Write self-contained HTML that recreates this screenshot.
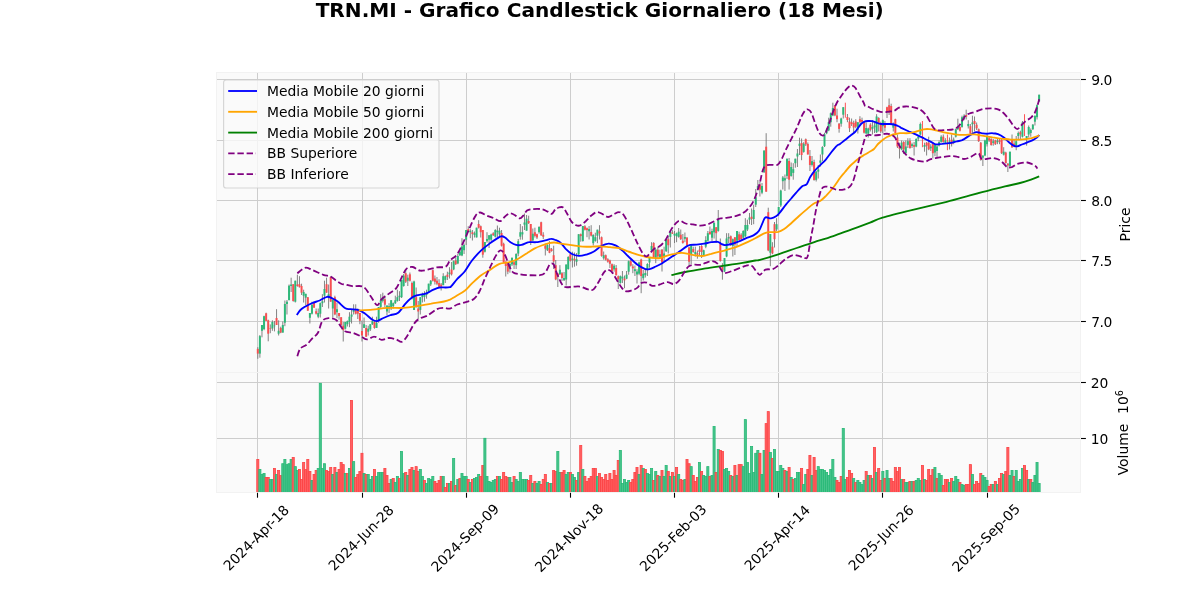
<!DOCTYPE html>
<html><head><meta charset="utf-8"><title>TRN.MI</title>
<style>html,body{margin:0;padding:0;background:#fff;width:1200px;height:600px;overflow:hidden}</style></head>
<body>
<svg width="1200" height="600" viewBox="0 0 1200 600" style="position:absolute;left:0;top:0;font-family:'DejaVu Sans','Liberation Sans',sans-serif">
<rect x="0" y="0" width="1200" height="600" fill="#ffffff"/>
<g opacity="0.999">
<rect x="216" y="72" width="864" height="300" fill="#fafafa"/>
<rect x="216" y="372" width="864" height="120" fill="#fafafa"/>
<g stroke="#cdcdcd" stroke-width="1" fill="none">
<line x1="257.5" y1="72" x2="257.5" y2="492"/>
<line x1="362.5" y1="72" x2="362.5" y2="492"/>
<line x1="466.5" y1="72" x2="466.5" y2="492"/>
<line x1="570.5" y1="72" x2="570.5" y2="492"/>
<line x1="674.5" y1="72" x2="674.5" y2="492"/>
<line x1="778.5" y1="72" x2="778.5" y2="492"/>
<line x1="882.5" y1="72" x2="882.5" y2="492"/>
<line x1="987.5" y1="72" x2="987.5" y2="492"/>
<line x1="216" y1="79.5" x2="1080" y2="79.5"/>
<line x1="216" y1="140.5" x2="1080" y2="140.5"/>
<line x1="216" y1="200.5" x2="1080" y2="200.5"/>
<line x1="216" y1="260.5" x2="1080" y2="260.5"/>
<line x1="216" y1="321.5" x2="1080" y2="321.5"/>
<line x1="216" y1="382.5" x2="1080" y2="382.5"/>
<line x1="216" y1="438.5" x2="1080" y2="438.5"/>
</g>
<g stroke="#f2f2f2" stroke-width="1" fill="none"><rect x="216.5" y="72.5" width="864" height="300"/><rect x="216.5" y="372.5" width="864" height="120"/></g>
<g clip-path="url(#cv)">
<clipPath id="cv"><rect x="216" y="372" width="864" height="120"/></clipPath>
<rect x="256.76" y="459.4" width="2.08" height="34.9" fill="#ff6163" stroke="#fc4143" stroke-width="0.8"/>
<rect x="258.84" y="469.4" width="2.08" height="24.9" fill="#47c48b" stroke="#27b876" stroke-width="0.8"/>
<rect x="260.93" y="474.4" width="2.08" height="19.9" fill="#47c48b" stroke="#27b876" stroke-width="0.8"/>
<rect x="263.01" y="473.5" width="2.08" height="20.8" fill="#47c48b" stroke="#27b876" stroke-width="0.8"/>
<rect x="265.09" y="477.4" width="2.08" height="16.9" fill="#ff6163" stroke="#fc4143" stroke-width="0.8"/>
<rect x="267.18" y="477.4" width="2.08" height="16.9" fill="#ff6163" stroke="#fc4143" stroke-width="0.8"/>
<rect x="269.26" y="479.5" width="2.08" height="14.8" fill="#47c48b" stroke="#27b876" stroke-width="0.8"/>
<rect x="271.34" y="479.5" width="2.08" height="14.8" fill="#47c48b" stroke="#27b876" stroke-width="0.8"/>
<rect x="273.43" y="468.5" width="2.08" height="25.8" fill="#ff6163" stroke="#fc4143" stroke-width="0.8"/>
<rect x="275.51" y="474.4" width="2.08" height="19.9" fill="#47c48b" stroke="#27b876" stroke-width="0.8"/>
<rect x="277.59" y="470.5" width="2.08" height="23.8" fill="#ff6163" stroke="#fc4143" stroke-width="0.8"/>
<rect x="279.68" y="475.6" width="2.08" height="18.7" fill="#ff6163" stroke="#fc4143" stroke-width="0.8"/>
<rect x="281.76" y="463.7" width="2.08" height="30.6" fill="#47c48b" stroke="#27b876" stroke-width="0.8"/>
<rect x="283.84" y="459.4" width="2.08" height="34.9" fill="#47c48b" stroke="#27b876" stroke-width="0.8"/>
<rect x="285.93" y="464.6" width="2.08" height="29.7" fill="#47c48b" stroke="#27b876" stroke-width="0.8"/>
<rect x="288.01" y="463.7" width="2.08" height="30.6" fill="#47c48b" stroke="#27b876" stroke-width="0.8"/>
<rect x="290.09" y="459.4" width="2.08" height="34.9" fill="#47c48b" stroke="#27b876" stroke-width="0.8"/>
<rect x="292.18" y="457.5" width="2.08" height="36.8" fill="#ff6163" stroke="#fc4143" stroke-width="0.8"/>
<rect x="294.26" y="466.6" width="2.08" height="27.7" fill="#47c48b" stroke="#27b876" stroke-width="0.8"/>
<rect x="296.34" y="470.5" width="2.08" height="23.8" fill="#47c48b" stroke="#27b876" stroke-width="0.8"/>
<rect x="298.43" y="469.4" width="2.08" height="24.9" fill="#ff6163" stroke="#fc4143" stroke-width="0.8"/>
<rect x="300.51" y="479.5" width="2.08" height="14.8" fill="#ff6163" stroke="#fc4143" stroke-width="0.8"/>
<rect x="302.60" y="462.5" width="2.08" height="31.8" fill="#ff6163" stroke="#fc4143" stroke-width="0.8"/>
<rect x="304.68" y="469.6" width="2.08" height="24.7" fill="#ff6163" stroke="#fc4143" stroke-width="0.8"/>
<rect x="306.76" y="459.5" width="2.08" height="34.8" fill="#ff6163" stroke="#fc4143" stroke-width="0.8"/>
<rect x="308.85" y="471.5" width="2.08" height="22.8" fill="#ff6163" stroke="#fc4143" stroke-width="0.8"/>
<rect x="310.93" y="480.4" width="2.08" height="13.9" fill="#47c48b" stroke="#27b876" stroke-width="0.8"/>
<rect x="313.01" y="474.4" width="2.08" height="19.9" fill="#ff6163" stroke="#fc4143" stroke-width="0.8"/>
<rect x="315.10" y="470.5" width="2.08" height="23.8" fill="#ff6163" stroke="#fc4143" stroke-width="0.8"/>
<rect x="317.18" y="468.5" width="2.08" height="25.8" fill="#47c48b" stroke="#27b876" stroke-width="0.8"/>
<rect x="319.26" y="383.3" width="2.08" height="111.0" fill="#47c48b" stroke="#27b876" stroke-width="0.8"/>
<rect x="321.35" y="468.5" width="2.08" height="25.8" fill="#47c48b" stroke="#27b876" stroke-width="0.8"/>
<rect x="323.43" y="463.7" width="2.08" height="30.6" fill="#47c48b" stroke="#27b876" stroke-width="0.8"/>
<rect x="325.51" y="470.5" width="2.08" height="23.8" fill="#ff6163" stroke="#fc4143" stroke-width="0.8"/>
<rect x="327.60" y="471.5" width="2.08" height="22.8" fill="#ff6163" stroke="#fc4143" stroke-width="0.8"/>
<rect x="329.68" y="467.5" width="2.08" height="26.8" fill="#ff6163" stroke="#fc4143" stroke-width="0.8"/>
<rect x="331.76" y="474.4" width="2.08" height="19.9" fill="#47c48b" stroke="#27b876" stroke-width="0.8"/>
<rect x="333.85" y="467.5" width="2.08" height="26.8" fill="#ff6163" stroke="#fc4143" stroke-width="0.8"/>
<rect x="335.93" y="472.4" width="2.08" height="21.9" fill="#47c48b" stroke="#27b876" stroke-width="0.8"/>
<rect x="338.01" y="469.4" width="2.08" height="24.9" fill="#ff6163" stroke="#fc4143" stroke-width="0.8"/>
<rect x="340.10" y="462.5" width="2.08" height="31.8" fill="#ff6163" stroke="#fc4143" stroke-width="0.8"/>
<rect x="342.18" y="464.6" width="2.08" height="29.7" fill="#ff6163" stroke="#fc4143" stroke-width="0.8"/>
<rect x="344.27" y="473.5" width="2.08" height="20.8" fill="#47c48b" stroke="#27b876" stroke-width="0.8"/>
<rect x="346.35" y="473.5" width="2.08" height="20.8" fill="#ff6163" stroke="#fc4143" stroke-width="0.8"/>
<rect x="348.43" y="468.5" width="2.08" height="25.8" fill="#47c48b" stroke="#27b876" stroke-width="0.8"/>
<rect x="350.52" y="400.4" width="2.08" height="93.9" fill="#ff6163" stroke="#fc4143" stroke-width="0.8"/>
<rect x="352.60" y="461.6" width="2.08" height="32.7" fill="#47c48b" stroke="#27b876" stroke-width="0.8"/>
<rect x="354.68" y="477.4" width="2.08" height="16.9" fill="#ff6163" stroke="#fc4143" stroke-width="0.8"/>
<rect x="356.77" y="474.4" width="2.08" height="19.9" fill="#ff6163" stroke="#fc4143" stroke-width="0.8"/>
<rect x="358.85" y="471.5" width="2.08" height="22.8" fill="#ff6163" stroke="#fc4143" stroke-width="0.8"/>
<rect x="360.93" y="453.3" width="2.08" height="41.0" fill="#ff6163" stroke="#fc4143" stroke-width="0.8"/>
<rect x="363.02" y="473.5" width="2.08" height="20.8" fill="#47c48b" stroke="#27b876" stroke-width="0.8"/>
<rect x="365.10" y="474.4" width="2.08" height="19.9" fill="#ff6163" stroke="#fc4143" stroke-width="0.8"/>
<rect x="367.18" y="474.4" width="2.08" height="19.9" fill="#47c48b" stroke="#27b876" stroke-width="0.8"/>
<rect x="369.27" y="479.5" width="2.08" height="14.8" fill="#47c48b" stroke="#27b876" stroke-width="0.8"/>
<rect x="371.35" y="476.5" width="2.08" height="17.8" fill="#47c48b" stroke="#27b876" stroke-width="0.8"/>
<rect x="373.43" y="469.4" width="2.08" height="24.9" fill="#ff6163" stroke="#fc4143" stroke-width="0.8"/>
<rect x="375.52" y="476.5" width="2.08" height="17.8" fill="#47c48b" stroke="#27b876" stroke-width="0.8"/>
<rect x="377.60" y="472.4" width="2.08" height="21.9" fill="#47c48b" stroke="#27b876" stroke-width="0.8"/>
<rect x="379.68" y="472.4" width="2.08" height="21.9" fill="#47c48b" stroke="#27b876" stroke-width="0.8"/>
<rect x="381.77" y="472.4" width="2.08" height="21.9" fill="#47c48b" stroke="#27b876" stroke-width="0.8"/>
<rect x="383.85" y="468.5" width="2.08" height="25.8" fill="#ff6163" stroke="#fc4143" stroke-width="0.8"/>
<rect x="385.94" y="475.4" width="2.08" height="18.9" fill="#ff6163" stroke="#fc4143" stroke-width="0.8"/>
<rect x="388.02" y="483.4" width="2.08" height="10.9" fill="#ff6163" stroke="#fc4143" stroke-width="0.8"/>
<rect x="390.10" y="479.5" width="2.08" height="14.8" fill="#47c48b" stroke="#27b876" stroke-width="0.8"/>
<rect x="392.19" y="478.5" width="2.08" height="15.8" fill="#ff6163" stroke="#fc4143" stroke-width="0.8"/>
<rect x="394.27" y="482.5" width="2.08" height="11.8" fill="#47c48b" stroke="#27b876" stroke-width="0.8"/>
<rect x="396.35" y="476.5" width="2.08" height="17.8" fill="#47c48b" stroke="#27b876" stroke-width="0.8"/>
<rect x="398.44" y="478.5" width="2.08" height="15.8" fill="#ff6163" stroke="#fc4143" stroke-width="0.8"/>
<rect x="400.52" y="451.5" width="2.08" height="42.8" fill="#47c48b" stroke="#27b876" stroke-width="0.8"/>
<rect x="402.60" y="473.5" width="2.08" height="20.8" fill="#47c48b" stroke="#27b876" stroke-width="0.8"/>
<rect x="404.69" y="472.4" width="2.08" height="21.9" fill="#ff6163" stroke="#fc4143" stroke-width="0.8"/>
<rect x="406.77" y="475.4" width="2.08" height="18.9" fill="#47c48b" stroke="#27b876" stroke-width="0.8"/>
<rect x="408.85" y="469.4" width="2.08" height="24.9" fill="#ff6163" stroke="#fc4143" stroke-width="0.8"/>
<rect x="410.94" y="467.5" width="2.08" height="26.8" fill="#ff6163" stroke="#fc4143" stroke-width="0.8"/>
<rect x="413.02" y="470.5" width="2.08" height="23.8" fill="#47c48b" stroke="#27b876" stroke-width="0.8"/>
<rect x="415.10" y="466.6" width="2.08" height="27.7" fill="#ff6163" stroke="#fc4143" stroke-width="0.8"/>
<rect x="417.19" y="471.5" width="2.08" height="22.8" fill="#ff6163" stroke="#fc4143" stroke-width="0.8"/>
<rect x="419.27" y="469.4" width="2.08" height="24.9" fill="#47c48b" stroke="#27b876" stroke-width="0.8"/>
<rect x="421.35" y="476.5" width="2.08" height="17.8" fill="#47c48b" stroke="#27b876" stroke-width="0.8"/>
<rect x="423.44" y="480.4" width="2.08" height="13.9" fill="#ff6163" stroke="#fc4143" stroke-width="0.8"/>
<rect x="425.52" y="483.4" width="2.08" height="10.9" fill="#47c48b" stroke="#27b876" stroke-width="0.8"/>
<rect x="427.61" y="478.5" width="2.08" height="15.8" fill="#47c48b" stroke="#27b876" stroke-width="0.8"/>
<rect x="429.69" y="479.5" width="2.08" height="14.8" fill="#47c48b" stroke="#27b876" stroke-width="0.8"/>
<rect x="431.77" y="476.5" width="2.08" height="17.8" fill="#47c48b" stroke="#27b876" stroke-width="0.8"/>
<rect x="433.86" y="481.5" width="2.08" height="12.8" fill="#ff6163" stroke="#fc4143" stroke-width="0.8"/>
<rect x="435.94" y="483.4" width="2.08" height="10.9" fill="#ff6163" stroke="#fc4143" stroke-width="0.8"/>
<rect x="438.02" y="480.4" width="2.08" height="13.9" fill="#ff6163" stroke="#fc4143" stroke-width="0.8"/>
<rect x="440.11" y="476.5" width="2.08" height="17.8" fill="#ff6163" stroke="#fc4143" stroke-width="0.8"/>
<rect x="442.19" y="476.5" width="2.08" height="17.8" fill="#47c48b" stroke="#27b876" stroke-width="0.8"/>
<rect x="444.27" y="487.5" width="2.08" height="6.8" fill="#ff6163" stroke="#fc4143" stroke-width="0.8"/>
<rect x="446.36" y="483.4" width="2.08" height="10.9" fill="#ff6163" stroke="#fc4143" stroke-width="0.8"/>
<rect x="448.44" y="483.4" width="2.08" height="10.9" fill="#47c48b" stroke="#27b876" stroke-width="0.8"/>
<rect x="450.52" y="481.5" width="2.08" height="12.8" fill="#ff6163" stroke="#fc4143" stroke-width="0.8"/>
<rect x="452.61" y="458.4" width="2.08" height="35.9" fill="#47c48b" stroke="#27b876" stroke-width="0.8"/>
<rect x="454.69" y="485.4" width="2.08" height="8.9" fill="#ff6163" stroke="#fc4143" stroke-width="0.8"/>
<rect x="456.77" y="479.5" width="2.08" height="14.8" fill="#47c48b" stroke="#27b876" stroke-width="0.8"/>
<rect x="458.86" y="478.5" width="2.08" height="15.8" fill="#ff6163" stroke="#fc4143" stroke-width="0.8"/>
<rect x="460.94" y="473.5" width="2.08" height="20.8" fill="#47c48b" stroke="#27b876" stroke-width="0.8"/>
<rect x="463.02" y="476.5" width="2.08" height="17.8" fill="#47c48b" stroke="#27b876" stroke-width="0.8"/>
<rect x="465.11" y="476.5" width="2.08" height="17.8" fill="#47c48b" stroke="#27b876" stroke-width="0.8"/>
<rect x="467.19" y="479.5" width="2.08" height="14.8" fill="#ff6163" stroke="#fc4143" stroke-width="0.8"/>
<rect x="469.28" y="482.5" width="2.08" height="11.8" fill="#47c48b" stroke="#27b876" stroke-width="0.8"/>
<rect x="471.36" y="479.5" width="2.08" height="14.8" fill="#ff6163" stroke="#fc4143" stroke-width="0.8"/>
<rect x="473.44" y="478.5" width="2.08" height="15.8" fill="#47c48b" stroke="#27b876" stroke-width="0.8"/>
<rect x="475.53" y="477.4" width="2.08" height="16.9" fill="#47c48b" stroke="#27b876" stroke-width="0.8"/>
<rect x="477.61" y="474.4" width="2.08" height="19.9" fill="#47c48b" stroke="#27b876" stroke-width="0.8"/>
<rect x="479.69" y="476.5" width="2.08" height="17.8" fill="#ff6163" stroke="#fc4143" stroke-width="0.8"/>
<rect x="481.78" y="465.5" width="2.08" height="28.8" fill="#ff6163" stroke="#fc4143" stroke-width="0.8"/>
<rect x="483.86" y="438.3" width="2.08" height="56.0" fill="#47c48b" stroke="#27b876" stroke-width="0.8"/>
<rect x="485.94" y="476.5" width="2.08" height="17.8" fill="#47c48b" stroke="#27b876" stroke-width="0.8"/>
<rect x="488.03" y="481.5" width="2.08" height="12.8" fill="#47c48b" stroke="#27b876" stroke-width="0.8"/>
<rect x="490.11" y="482.5" width="2.08" height="11.8" fill="#47c48b" stroke="#27b876" stroke-width="0.8"/>
<rect x="492.19" y="480.4" width="2.08" height="13.9" fill="#47c48b" stroke="#27b876" stroke-width="0.8"/>
<rect x="494.28" y="479.5" width="2.08" height="14.8" fill="#47c48b" stroke="#27b876" stroke-width="0.8"/>
<rect x="496.36" y="476.5" width="2.08" height="17.8" fill="#ff6163" stroke="#fc4143" stroke-width="0.8"/>
<rect x="498.44" y="476.5" width="2.08" height="17.8" fill="#47c48b" stroke="#27b876" stroke-width="0.8"/>
<rect x="500.53" y="479.5" width="2.08" height="14.8" fill="#ff6163" stroke="#fc4143" stroke-width="0.8"/>
<rect x="502.61" y="472.4" width="2.08" height="21.9" fill="#ff6163" stroke="#fc4143" stroke-width="0.8"/>
<rect x="504.69" y="476.5" width="2.08" height="17.8" fill="#ff6163" stroke="#fc4143" stroke-width="0.8"/>
<rect x="506.78" y="477.4" width="2.08" height="16.9" fill="#ff6163" stroke="#fc4143" stroke-width="0.8"/>
<rect x="508.86" y="477.4" width="2.08" height="16.9" fill="#47c48b" stroke="#27b876" stroke-width="0.8"/>
<rect x="510.95" y="482.5" width="2.08" height="11.8" fill="#47c48b" stroke="#27b876" stroke-width="0.8"/>
<rect x="513.03" y="476.5" width="2.08" height="17.8" fill="#ff6163" stroke="#fc4143" stroke-width="0.8"/>
<rect x="515.11" y="479.5" width="2.08" height="14.8" fill="#47c48b" stroke="#27b876" stroke-width="0.8"/>
<rect x="517.20" y="481.5" width="2.08" height="12.8" fill="#47c48b" stroke="#27b876" stroke-width="0.8"/>
<rect x="519.28" y="472.4" width="2.08" height="21.9" fill="#47c48b" stroke="#27b876" stroke-width="0.8"/>
<rect x="521.36" y="479.5" width="2.08" height="14.8" fill="#47c48b" stroke="#27b876" stroke-width="0.8"/>
<rect x="523.45" y="479.5" width="2.08" height="14.8" fill="#47c48b" stroke="#27b876" stroke-width="0.8"/>
<rect x="525.53" y="479.5" width="2.08" height="14.8" fill="#47c48b" stroke="#27b876" stroke-width="0.8"/>
<rect x="527.61" y="480.4" width="2.08" height="13.9" fill="#ff6163" stroke="#fc4143" stroke-width="0.8"/>
<rect x="529.70" y="475.4" width="2.08" height="18.9" fill="#ff6163" stroke="#fc4143" stroke-width="0.8"/>
<rect x="531.78" y="483.4" width="2.08" height="10.9" fill="#47c48b" stroke="#27b876" stroke-width="0.8"/>
<rect x="533.86" y="481.5" width="2.08" height="12.8" fill="#ff6163" stroke="#fc4143" stroke-width="0.8"/>
<rect x="535.95" y="483.4" width="2.08" height="10.9" fill="#47c48b" stroke="#27b876" stroke-width="0.8"/>
<rect x="538.03" y="481.5" width="2.08" height="12.8" fill="#47c48b" stroke="#27b876" stroke-width="0.8"/>
<rect x="540.11" y="484.5" width="2.08" height="9.8" fill="#ff6163" stroke="#fc4143" stroke-width="0.8"/>
<rect x="542.20" y="479.5" width="2.08" height="14.8" fill="#ff6163" stroke="#fc4143" stroke-width="0.8"/>
<rect x="544.28" y="474.4" width="2.08" height="19.9" fill="#ff6163" stroke="#fc4143" stroke-width="0.8"/>
<rect x="546.36" y="482.5" width="2.08" height="11.8" fill="#47c48b" stroke="#27b876" stroke-width="0.8"/>
<rect x="548.45" y="483.4" width="2.08" height="10.9" fill="#ff6163" stroke="#fc4143" stroke-width="0.8"/>
<rect x="550.53" y="483.4" width="2.08" height="10.9" fill="#47c48b" stroke="#27b876" stroke-width="0.8"/>
<rect x="552.62" y="470.5" width="2.08" height="23.8" fill="#ff6163" stroke="#fc4143" stroke-width="0.8"/>
<rect x="554.70" y="471.5" width="2.08" height="22.8" fill="#ff6163" stroke="#fc4143" stroke-width="0.8"/>
<rect x="556.78" y="451.5" width="2.08" height="42.8" fill="#47c48b" stroke="#27b876" stroke-width="0.8"/>
<rect x="558.87" y="472.4" width="2.08" height="21.9" fill="#47c48b" stroke="#27b876" stroke-width="0.8"/>
<rect x="560.95" y="472.4" width="2.08" height="21.9" fill="#ff6163" stroke="#fc4143" stroke-width="0.8"/>
<rect x="563.03" y="470.5" width="2.08" height="23.8" fill="#ff6163" stroke="#fc4143" stroke-width="0.8"/>
<rect x="565.12" y="474.4" width="2.08" height="19.9" fill="#47c48b" stroke="#27b876" stroke-width="0.8"/>
<rect x="567.20" y="472.4" width="2.08" height="21.9" fill="#47c48b" stroke="#27b876" stroke-width="0.8"/>
<rect x="569.28" y="472.4" width="2.08" height="21.9" fill="#ff6163" stroke="#fc4143" stroke-width="0.8"/>
<rect x="571.37" y="474.4" width="2.08" height="19.9" fill="#47c48b" stroke="#27b876" stroke-width="0.8"/>
<rect x="573.45" y="477.4" width="2.08" height="16.9" fill="#47c48b" stroke="#27b876" stroke-width="0.8"/>
<rect x="575.53" y="480.4" width="2.08" height="13.9" fill="#ff6163" stroke="#fc4143" stroke-width="0.8"/>
<rect x="577.62" y="472.4" width="2.08" height="21.9" fill="#47c48b" stroke="#27b876" stroke-width="0.8"/>
<rect x="579.70" y="445.5" width="2.08" height="48.8" fill="#ff6163" stroke="#fc4143" stroke-width="0.8"/>
<rect x="581.78" y="469.4" width="2.08" height="24.9" fill="#47c48b" stroke="#27b876" stroke-width="0.8"/>
<rect x="583.87" y="476.5" width="2.08" height="17.8" fill="#ff6163" stroke="#fc4143" stroke-width="0.8"/>
<rect x="585.95" y="481.5" width="2.08" height="12.8" fill="#ff6163" stroke="#fc4143" stroke-width="0.8"/>
<rect x="588.03" y="478.5" width="2.08" height="15.8" fill="#ff6163" stroke="#fc4143" stroke-width="0.8"/>
<rect x="590.12" y="476.5" width="2.08" height="17.8" fill="#ff6163" stroke="#fc4143" stroke-width="0.8"/>
<rect x="592.20" y="468.5" width="2.08" height="25.8" fill="#ff6163" stroke="#fc4143" stroke-width="0.8"/>
<rect x="594.29" y="468.5" width="2.08" height="25.8" fill="#ff6163" stroke="#fc4143" stroke-width="0.8"/>
<rect x="596.37" y="476.5" width="2.08" height="17.8" fill="#47c48b" stroke="#27b876" stroke-width="0.8"/>
<rect x="598.45" y="473.5" width="2.08" height="20.8" fill="#ff6163" stroke="#fc4143" stroke-width="0.8"/>
<rect x="600.54" y="477.4" width="2.08" height="16.9" fill="#ff6163" stroke="#fc4143" stroke-width="0.8"/>
<rect x="602.62" y="479.5" width="2.08" height="14.8" fill="#ff6163" stroke="#fc4143" stroke-width="0.8"/>
<rect x="604.70" y="474.4" width="2.08" height="19.9" fill="#ff6163" stroke="#fc4143" stroke-width="0.8"/>
<rect x="606.79" y="480.4" width="2.08" height="13.9" fill="#ff6163" stroke="#fc4143" stroke-width="0.8"/>
<rect x="608.87" y="473.5" width="2.08" height="20.8" fill="#ff6163" stroke="#fc4143" stroke-width="0.8"/>
<rect x="610.95" y="479.5" width="2.08" height="14.8" fill="#ff6163" stroke="#fc4143" stroke-width="0.8"/>
<rect x="613.04" y="470.5" width="2.08" height="23.8" fill="#ff6163" stroke="#fc4143" stroke-width="0.8"/>
<rect x="615.12" y="475.4" width="2.08" height="18.9" fill="#ff6163" stroke="#fc4143" stroke-width="0.8"/>
<rect x="617.20" y="460.5" width="2.08" height="33.8" fill="#ff6163" stroke="#fc4143" stroke-width="0.8"/>
<rect x="619.29" y="450.4" width="2.08" height="43.9" fill="#47c48b" stroke="#27b876" stroke-width="0.8"/>
<rect x="621.37" y="483.4" width="2.08" height="10.9" fill="#47c48b" stroke="#27b876" stroke-width="0.8"/>
<rect x="623.45" y="479.5" width="2.08" height="14.8" fill="#47c48b" stroke="#27b876" stroke-width="0.8"/>
<rect x="625.54" y="482.5" width="2.08" height="11.8" fill="#47c48b" stroke="#27b876" stroke-width="0.8"/>
<rect x="627.62" y="480.4" width="2.08" height="13.9" fill="#47c48b" stroke="#27b876" stroke-width="0.8"/>
<rect x="629.70" y="482.5" width="2.08" height="11.8" fill="#ff6163" stroke="#fc4143" stroke-width="0.8"/>
<rect x="631.79" y="479.5" width="2.08" height="14.8" fill="#ff6163" stroke="#fc4143" stroke-width="0.8"/>
<rect x="633.87" y="472.4" width="2.08" height="21.9" fill="#ff6163" stroke="#fc4143" stroke-width="0.8"/>
<rect x="635.96" y="467.5" width="2.08" height="26.8" fill="#ff6163" stroke="#fc4143" stroke-width="0.8"/>
<rect x="638.04" y="474.4" width="2.08" height="19.9" fill="#47c48b" stroke="#27b876" stroke-width="0.8"/>
<rect x="640.12" y="465.5" width="2.08" height="28.8" fill="#ff6163" stroke="#fc4143" stroke-width="0.8"/>
<rect x="642.21" y="468.5" width="2.08" height="25.8" fill="#47c48b" stroke="#27b876" stroke-width="0.8"/>
<rect x="644.29" y="469.4" width="2.08" height="24.9" fill="#ff6163" stroke="#fc4143" stroke-width="0.8"/>
<rect x="646.37" y="473.5" width="2.08" height="20.8" fill="#47c48b" stroke="#27b876" stroke-width="0.8"/>
<rect x="648.46" y="474.4" width="2.08" height="19.9" fill="#47c48b" stroke="#27b876" stroke-width="0.8"/>
<rect x="650.54" y="468.5" width="2.08" height="25.8" fill="#47c48b" stroke="#27b876" stroke-width="0.8"/>
<rect x="652.62" y="480.4" width="2.08" height="13.9" fill="#ff6163" stroke="#fc4143" stroke-width="0.8"/>
<rect x="654.71" y="471.5" width="2.08" height="22.8" fill="#47c48b" stroke="#27b876" stroke-width="0.8"/>
<rect x="656.79" y="475.4" width="2.08" height="18.9" fill="#ff6163" stroke="#fc4143" stroke-width="0.8"/>
<rect x="658.87" y="476.5" width="2.08" height="17.8" fill="#47c48b" stroke="#27b876" stroke-width="0.8"/>
<rect x="660.96" y="470.5" width="2.08" height="23.8" fill="#ff6163" stroke="#fc4143" stroke-width="0.8"/>
<rect x="663.04" y="476.5" width="2.08" height="17.8" fill="#47c48b" stroke="#27b876" stroke-width="0.8"/>
<rect x="665.12" y="465.5" width="2.08" height="28.8" fill="#47c48b" stroke="#27b876" stroke-width="0.8"/>
<rect x="667.21" y="471.5" width="2.08" height="22.8" fill="#ff6163" stroke="#fc4143" stroke-width="0.8"/>
<rect x="669.29" y="476.5" width="2.08" height="17.8" fill="#47c48b" stroke="#27b876" stroke-width="0.8"/>
<rect x="671.37" y="472.4" width="2.08" height="21.9" fill="#ff6163" stroke="#fc4143" stroke-width="0.8"/>
<rect x="673.46" y="476.5" width="2.08" height="17.8" fill="#47c48b" stroke="#27b876" stroke-width="0.8"/>
<rect x="675.54" y="467.5" width="2.08" height="26.8" fill="#ff6163" stroke="#fc4143" stroke-width="0.8"/>
<rect x="677.63" y="474.4" width="2.08" height="19.9" fill="#47c48b" stroke="#27b876" stroke-width="0.8"/>
<rect x="679.71" y="479.5" width="2.08" height="14.8" fill="#ff6163" stroke="#fc4143" stroke-width="0.8"/>
<rect x="681.79" y="480.4" width="2.08" height="13.9" fill="#ff6163" stroke="#fc4143" stroke-width="0.8"/>
<rect x="683.88" y="479.5" width="2.08" height="14.8" fill="#47c48b" stroke="#27b876" stroke-width="0.8"/>
<rect x="685.96" y="459.5" width="2.08" height="34.8" fill="#ff6163" stroke="#fc4143" stroke-width="0.8"/>
<rect x="688.04" y="463.7" width="2.08" height="30.6" fill="#ff6163" stroke="#fc4143" stroke-width="0.8"/>
<rect x="690.13" y="466.6" width="2.08" height="27.7" fill="#47c48b" stroke="#27b876" stroke-width="0.8"/>
<rect x="692.21" y="475.4" width="2.08" height="18.9" fill="#ff6163" stroke="#fc4143" stroke-width="0.8"/>
<rect x="694.29" y="481.5" width="2.08" height="12.8" fill="#ff6163" stroke="#fc4143" stroke-width="0.8"/>
<rect x="696.38" y="477.4" width="2.08" height="16.9" fill="#ff6163" stroke="#fc4143" stroke-width="0.8"/>
<rect x="698.46" y="462.5" width="2.08" height="31.8" fill="#47c48b" stroke="#27b876" stroke-width="0.8"/>
<rect x="700.54" y="471.5" width="2.08" height="22.8" fill="#ff6163" stroke="#fc4143" stroke-width="0.8"/>
<rect x="702.63" y="475.4" width="2.08" height="18.9" fill="#47c48b" stroke="#27b876" stroke-width="0.8"/>
<rect x="704.71" y="476.5" width="2.08" height="17.8" fill="#47c48b" stroke="#27b876" stroke-width="0.8"/>
<rect x="706.79" y="466.6" width="2.08" height="27.7" fill="#47c48b" stroke="#27b876" stroke-width="0.8"/>
<rect x="708.88" y="476.5" width="2.08" height="17.8" fill="#ff6163" stroke="#fc4143" stroke-width="0.8"/>
<rect x="710.96" y="475.4" width="2.08" height="18.9" fill="#47c48b" stroke="#27b876" stroke-width="0.8"/>
<rect x="713.04" y="426.4" width="2.08" height="67.9" fill="#47c48b" stroke="#27b876" stroke-width="0.8"/>
<rect x="715.13" y="472.4" width="2.08" height="21.9" fill="#ff6163" stroke="#fc4143" stroke-width="0.8"/>
<rect x="717.21" y="449.5" width="2.08" height="44.8" fill="#47c48b" stroke="#27b876" stroke-width="0.8"/>
<rect x="719.30" y="450.4" width="2.08" height="43.9" fill="#ff6163" stroke="#fc4143" stroke-width="0.8"/>
<rect x="721.38" y="451.5" width="2.08" height="42.8" fill="#ff6163" stroke="#fc4143" stroke-width="0.8"/>
<rect x="723.46" y="469.4" width="2.08" height="24.9" fill="#47c48b" stroke="#27b876" stroke-width="0.8"/>
<rect x="725.55" y="468.5" width="2.08" height="25.8" fill="#47c48b" stroke="#27b876" stroke-width="0.8"/>
<rect x="727.63" y="471.5" width="2.08" height="22.8" fill="#47c48b" stroke="#27b876" stroke-width="0.8"/>
<rect x="729.71" y="475.4" width="2.08" height="18.9" fill="#ff6163" stroke="#fc4143" stroke-width="0.8"/>
<rect x="731.80" y="476.5" width="2.08" height="17.8" fill="#47c48b" stroke="#27b876" stroke-width="0.8"/>
<rect x="733.88" y="465.5" width="2.08" height="28.8" fill="#ff6163" stroke="#fc4143" stroke-width="0.8"/>
<rect x="735.96" y="475.4" width="2.08" height="18.9" fill="#47c48b" stroke="#27b876" stroke-width="0.8"/>
<rect x="738.05" y="464.6" width="2.08" height="29.7" fill="#ff6163" stroke="#fc4143" stroke-width="0.8"/>
<rect x="740.13" y="464.6" width="2.08" height="29.7" fill="#ff6163" stroke="#fc4143" stroke-width="0.8"/>
<rect x="742.21" y="466.6" width="2.08" height="27.7" fill="#47c48b" stroke="#27b876" stroke-width="0.8"/>
<rect x="744.30" y="419.6" width="2.08" height="74.7" fill="#47c48b" stroke="#27b876" stroke-width="0.8"/>
<rect x="746.38" y="462.5" width="2.08" height="31.8" fill="#47c48b" stroke="#27b876" stroke-width="0.8"/>
<rect x="748.46" y="473.5" width="2.08" height="20.8" fill="#47c48b" stroke="#27b876" stroke-width="0.8"/>
<rect x="750.55" y="446.5" width="2.08" height="47.8" fill="#47c48b" stroke="#27b876" stroke-width="0.8"/>
<rect x="752.63" y="472.4" width="2.08" height="21.9" fill="#47c48b" stroke="#27b876" stroke-width="0.8"/>
<rect x="754.71" y="453.3" width="2.08" height="41.0" fill="#47c48b" stroke="#27b876" stroke-width="0.8"/>
<rect x="756.80" y="450.4" width="2.08" height="43.9" fill="#47c48b" stroke="#27b876" stroke-width="0.8"/>
<rect x="758.88" y="453.3" width="2.08" height="41.0" fill="#ff6163" stroke="#fc4143" stroke-width="0.8"/>
<rect x="760.97" y="474.4" width="2.08" height="19.9" fill="#47c48b" stroke="#27b876" stroke-width="0.8"/>
<rect x="763.05" y="450.4" width="2.08" height="43.9" fill="#47c48b" stroke="#27b876" stroke-width="0.8"/>
<rect x="765.13" y="423.6" width="2.08" height="70.7" fill="#ff6163" stroke="#fc4143" stroke-width="0.8"/>
<rect x="767.22" y="411.6" width="2.08" height="82.7" fill="#ff6163" stroke="#fc4143" stroke-width="0.8"/>
<rect x="769.30" y="452.4" width="2.08" height="41.9" fill="#47c48b" stroke="#27b876" stroke-width="0.8"/>
<rect x="771.38" y="458.4" width="2.08" height="35.9" fill="#ff6163" stroke="#fc4143" stroke-width="0.8"/>
<rect x="773.47" y="449.5" width="2.08" height="44.8" fill="#47c48b" stroke="#27b876" stroke-width="0.8"/>
<rect x="775.55" y="471.5" width="2.08" height="22.8" fill="#47c48b" stroke="#27b876" stroke-width="0.8"/>
<rect x="777.63" y="471.5" width="2.08" height="22.8" fill="#47c48b" stroke="#27b876" stroke-width="0.8"/>
<rect x="779.72" y="465.5" width="2.08" height="28.8" fill="#47c48b" stroke="#27b876" stroke-width="0.8"/>
<rect x="781.80" y="468.5" width="2.08" height="25.8" fill="#47c48b" stroke="#27b876" stroke-width="0.8"/>
<rect x="783.88" y="470.5" width="2.08" height="23.8" fill="#ff6163" stroke="#fc4143" stroke-width="0.8"/>
<rect x="785.97" y="471.5" width="2.08" height="22.8" fill="#47c48b" stroke="#27b876" stroke-width="0.8"/>
<rect x="788.05" y="467.5" width="2.08" height="26.8" fill="#ff6163" stroke="#fc4143" stroke-width="0.8"/>
<rect x="790.13" y="477.4" width="2.08" height="16.9" fill="#47c48b" stroke="#27b876" stroke-width="0.8"/>
<rect x="792.22" y="479.5" width="2.08" height="14.8" fill="#ff6163" stroke="#fc4143" stroke-width="0.8"/>
<rect x="794.30" y="478.5" width="2.08" height="15.8" fill="#47c48b" stroke="#27b876" stroke-width="0.8"/>
<rect x="796.38" y="472.4" width="2.08" height="21.9" fill="#47c48b" stroke="#27b876" stroke-width="0.8"/>
<rect x="798.47" y="472.4" width="2.08" height="21.9" fill="#47c48b" stroke="#27b876" stroke-width="0.8"/>
<rect x="800.55" y="468.5" width="2.08" height="25.8" fill="#ff6163" stroke="#fc4143" stroke-width="0.8"/>
<rect x="802.64" y="484.5" width="2.08" height="9.8" fill="#47c48b" stroke="#27b876" stroke-width="0.8"/>
<rect x="804.72" y="474.4" width="2.08" height="19.9" fill="#47c48b" stroke="#27b876" stroke-width="0.8"/>
<rect x="806.80" y="469.4" width="2.08" height="24.9" fill="#ff6163" stroke="#fc4143" stroke-width="0.8"/>
<rect x="808.89" y="455.4" width="2.08" height="38.9" fill="#ff6163" stroke="#fc4143" stroke-width="0.8"/>
<rect x="810.97" y="475.4" width="2.08" height="18.9" fill="#47c48b" stroke="#27b876" stroke-width="0.8"/>
<rect x="813.05" y="457.5" width="2.08" height="36.8" fill="#ff6163" stroke="#fc4143" stroke-width="0.8"/>
<rect x="815.14" y="470.5" width="2.08" height="23.8" fill="#ff6163" stroke="#fc4143" stroke-width="0.8"/>
<rect x="817.22" y="466.6" width="2.08" height="27.7" fill="#47c48b" stroke="#27b876" stroke-width="0.8"/>
<rect x="819.30" y="469.4" width="2.08" height="24.9" fill="#47c48b" stroke="#27b876" stroke-width="0.8"/>
<rect x="821.39" y="469.4" width="2.08" height="24.9" fill="#47c48b" stroke="#27b876" stroke-width="0.8"/>
<rect x="823.47" y="470.5" width="2.08" height="23.8" fill="#47c48b" stroke="#27b876" stroke-width="0.8"/>
<rect x="825.55" y="472.4" width="2.08" height="21.9" fill="#47c48b" stroke="#27b876" stroke-width="0.8"/>
<rect x="827.64" y="475.4" width="2.08" height="18.9" fill="#47c48b" stroke="#27b876" stroke-width="0.8"/>
<rect x="829.72" y="469.4" width="2.08" height="24.9" fill="#47c48b" stroke="#27b876" stroke-width="0.8"/>
<rect x="831.80" y="459.5" width="2.08" height="34.8" fill="#47c48b" stroke="#27b876" stroke-width="0.8"/>
<rect x="833.89" y="477.4" width="2.08" height="16.9" fill="#47c48b" stroke="#27b876" stroke-width="0.8"/>
<rect x="835.97" y="480.4" width="2.08" height="13.9" fill="#ff6163" stroke="#fc4143" stroke-width="0.8"/>
<rect x="838.05" y="482.5" width="2.08" height="11.8" fill="#ff6163" stroke="#fc4143" stroke-width="0.8"/>
<rect x="840.14" y="476.5" width="2.08" height="17.8" fill="#ff6163" stroke="#fc4143" stroke-width="0.8"/>
<rect x="842.22" y="428.4" width="2.08" height="65.9" fill="#47c48b" stroke="#27b876" stroke-width="0.8"/>
<rect x="844.31" y="479.5" width="2.08" height="14.8" fill="#47c48b" stroke="#27b876" stroke-width="0.8"/>
<rect x="846.39" y="477.4" width="2.08" height="16.9" fill="#ff6163" stroke="#fc4143" stroke-width="0.8"/>
<rect x="848.47" y="470.5" width="2.08" height="23.8" fill="#ff6163" stroke="#fc4143" stroke-width="0.8"/>
<rect x="850.56" y="473.5" width="2.08" height="20.8" fill="#ff6163" stroke="#fc4143" stroke-width="0.8"/>
<rect x="852.64" y="478.5" width="2.08" height="15.8" fill="#47c48b" stroke="#27b876" stroke-width="0.8"/>
<rect x="854.72" y="482.5" width="2.08" height="11.8" fill="#ff6163" stroke="#fc4143" stroke-width="0.8"/>
<rect x="856.81" y="480.4" width="2.08" height="13.9" fill="#47c48b" stroke="#27b876" stroke-width="0.8"/>
<rect x="858.89" y="482.5" width="2.08" height="11.8" fill="#47c48b" stroke="#27b876" stroke-width="0.8"/>
<rect x="860.97" y="484.5" width="2.08" height="9.8" fill="#47c48b" stroke="#27b876" stroke-width="0.8"/>
<rect x="863.06" y="480.4" width="2.08" height="13.9" fill="#47c48b" stroke="#27b876" stroke-width="0.8"/>
<rect x="865.14" y="471.5" width="2.08" height="22.8" fill="#ff6163" stroke="#fc4143" stroke-width="0.8"/>
<rect x="867.22" y="475.4" width="2.08" height="18.9" fill="#47c48b" stroke="#27b876" stroke-width="0.8"/>
<rect x="869.31" y="475.4" width="2.08" height="18.9" fill="#ff6163" stroke="#fc4143" stroke-width="0.8"/>
<rect x="871.39" y="478.5" width="2.08" height="15.8" fill="#47c48b" stroke="#27b876" stroke-width="0.8"/>
<rect x="873.47" y="447.4" width="2.08" height="46.9" fill="#ff6163" stroke="#fc4143" stroke-width="0.8"/>
<rect x="875.56" y="472.4" width="2.08" height="21.9" fill="#47c48b" stroke="#27b876" stroke-width="0.8"/>
<rect x="877.64" y="468.5" width="2.08" height="25.8" fill="#ff6163" stroke="#fc4143" stroke-width="0.8"/>
<rect x="879.72" y="480.4" width="2.08" height="13.9" fill="#ff6163" stroke="#fc4143" stroke-width="0.8"/>
<rect x="881.81" y="471.5" width="2.08" height="22.8" fill="#47c48b" stroke="#27b876" stroke-width="0.8"/>
<rect x="883.89" y="478.5" width="2.08" height="15.8" fill="#ff6163" stroke="#fc4143" stroke-width="0.8"/>
<rect x="885.98" y="470.5" width="2.08" height="23.8" fill="#47c48b" stroke="#27b876" stroke-width="0.8"/>
<rect x="888.06" y="478.5" width="2.08" height="15.8" fill="#47c48b" stroke="#27b876" stroke-width="0.8"/>
<rect x="890.14" y="478.5" width="2.08" height="15.8" fill="#ff6163" stroke="#fc4143" stroke-width="0.8"/>
<rect x="892.23" y="481.5" width="2.08" height="12.8" fill="#ff6163" stroke="#fc4143" stroke-width="0.8"/>
<rect x="894.31" y="467.5" width="2.08" height="26.8" fill="#ff6163" stroke="#fc4143" stroke-width="0.8"/>
<rect x="896.39" y="471.5" width="2.08" height="22.8" fill="#ff6163" stroke="#fc4143" stroke-width="0.8"/>
<rect x="898.48" y="467.5" width="2.08" height="26.8" fill="#ff6163" stroke="#fc4143" stroke-width="0.8"/>
<rect x="900.56" y="479.5" width="2.08" height="14.8" fill="#47c48b" stroke="#27b876" stroke-width="0.8"/>
<rect x="902.64" y="479.5" width="2.08" height="14.8" fill="#ff6163" stroke="#fc4143" stroke-width="0.8"/>
<rect x="904.73" y="482.5" width="2.08" height="11.8" fill="#47c48b" stroke="#27b876" stroke-width="0.8"/>
<rect x="906.81" y="482.5" width="2.08" height="11.8" fill="#47c48b" stroke="#27b876" stroke-width="0.8"/>
<rect x="908.89" y="481.5" width="2.08" height="12.8" fill="#ff6163" stroke="#fc4143" stroke-width="0.8"/>
<rect x="910.98" y="481.5" width="2.08" height="12.8" fill="#47c48b" stroke="#27b876" stroke-width="0.8"/>
<rect x="913.06" y="481.5" width="2.08" height="12.8" fill="#ff6163" stroke="#fc4143" stroke-width="0.8"/>
<rect x="915.14" y="480.4" width="2.08" height="13.9" fill="#47c48b" stroke="#27b876" stroke-width="0.8"/>
<rect x="917.23" y="478.5" width="2.08" height="15.8" fill="#47c48b" stroke="#27b876" stroke-width="0.8"/>
<rect x="919.31" y="480.4" width="2.08" height="13.9" fill="#47c48b" stroke="#27b876" stroke-width="0.8"/>
<rect x="921.39" y="465.5" width="2.08" height="28.8" fill="#ff6163" stroke="#fc4143" stroke-width="0.8"/>
<rect x="923.48" y="479.5" width="2.08" height="14.8" fill="#47c48b" stroke="#27b876" stroke-width="0.8"/>
<rect x="925.56" y="480.4" width="2.08" height="13.9" fill="#ff6163" stroke="#fc4143" stroke-width="0.8"/>
<rect x="927.65" y="469.4" width="2.08" height="24.9" fill="#ff6163" stroke="#fc4143" stroke-width="0.8"/>
<rect x="929.73" y="475.4" width="2.08" height="18.9" fill="#ff6163" stroke="#fc4143" stroke-width="0.8"/>
<rect x="931.81" y="469.4" width="2.08" height="24.9" fill="#ff6163" stroke="#fc4143" stroke-width="0.8"/>
<rect x="933.90" y="467.5" width="2.08" height="26.8" fill="#47c48b" stroke="#27b876" stroke-width="0.8"/>
<rect x="935.98" y="478.5" width="2.08" height="15.8" fill="#ff6163" stroke="#fc4143" stroke-width="0.8"/>
<rect x="938.06" y="473.5" width="2.08" height="20.8" fill="#47c48b" stroke="#27b876" stroke-width="0.8"/>
<rect x="940.15" y="475.4" width="2.08" height="18.9" fill="#47c48b" stroke="#27b876" stroke-width="0.8"/>
<rect x="942.23" y="485.4" width="2.08" height="8.9" fill="#ff6163" stroke="#fc4143" stroke-width="0.8"/>
<rect x="944.31" y="479.5" width="2.08" height="14.8" fill="#ff6163" stroke="#fc4143" stroke-width="0.8"/>
<rect x="946.40" y="479.5" width="2.08" height="14.8" fill="#ff6163" stroke="#fc4143" stroke-width="0.8"/>
<rect x="948.48" y="482.5" width="2.08" height="11.8" fill="#47c48b" stroke="#27b876" stroke-width="0.8"/>
<rect x="950.56" y="478.5" width="2.08" height="15.8" fill="#ff6163" stroke="#fc4143" stroke-width="0.8"/>
<rect x="952.65" y="481.5" width="2.08" height="12.8" fill="#47c48b" stroke="#27b876" stroke-width="0.8"/>
<rect x="954.73" y="476.5" width="2.08" height="17.8" fill="#47c48b" stroke="#27b876" stroke-width="0.8"/>
<rect x="956.81" y="479.5" width="2.08" height="14.8" fill="#47c48b" stroke="#27b876" stroke-width="0.8"/>
<rect x="958.90" y="482.5" width="2.08" height="11.8" fill="#ff6163" stroke="#fc4143" stroke-width="0.8"/>
<rect x="960.98" y="484.5" width="2.08" height="9.8" fill="#47c48b" stroke="#27b876" stroke-width="0.8"/>
<rect x="963.06" y="485.4" width="2.08" height="8.9" fill="#47c48b" stroke="#27b876" stroke-width="0.8"/>
<rect x="965.15" y="484.5" width="2.08" height="9.8" fill="#ff6163" stroke="#fc4143" stroke-width="0.8"/>
<rect x="967.23" y="484.5" width="2.08" height="9.8" fill="#ff6163" stroke="#fc4143" stroke-width="0.8"/>
<rect x="969.32" y="464.6" width="2.08" height="29.7" fill="#ff6163" stroke="#fc4143" stroke-width="0.8"/>
<rect x="971.40" y="474.4" width="2.08" height="19.9" fill="#47c48b" stroke="#27b876" stroke-width="0.8"/>
<rect x="973.48" y="484.5" width="2.08" height="9.8" fill="#ff6163" stroke="#fc4143" stroke-width="0.8"/>
<rect x="975.57" y="481.5" width="2.08" height="12.8" fill="#ff6163" stroke="#fc4143" stroke-width="0.8"/>
<rect x="977.65" y="483.4" width="2.08" height="10.9" fill="#ff6163" stroke="#fc4143" stroke-width="0.8"/>
<rect x="979.73" y="473.5" width="2.08" height="20.8" fill="#ff6163" stroke="#fc4143" stroke-width="0.8"/>
<rect x="981.82" y="475.4" width="2.08" height="18.9" fill="#47c48b" stroke="#27b876" stroke-width="0.8"/>
<rect x="983.90" y="477.4" width="2.08" height="16.9" fill="#47c48b" stroke="#27b876" stroke-width="0.8"/>
<rect x="985.98" y="480.4" width="2.08" height="13.9" fill="#47c48b" stroke="#27b876" stroke-width="0.8"/>
<rect x="988.07" y="486.4" width="2.08" height="7.9" fill="#ff6163" stroke="#fc4143" stroke-width="0.8"/>
<rect x="990.15" y="484.5" width="2.08" height="9.8" fill="#ff6163" stroke="#fc4143" stroke-width="0.8"/>
<rect x="992.23" y="484.5" width="2.08" height="9.8" fill="#47c48b" stroke="#27b876" stroke-width="0.8"/>
<rect x="994.32" y="481.5" width="2.08" height="12.8" fill="#ff6163" stroke="#fc4143" stroke-width="0.8"/>
<rect x="996.40" y="484.5" width="2.08" height="9.8" fill="#47c48b" stroke="#27b876" stroke-width="0.8"/>
<rect x="998.48" y="478.5" width="2.08" height="15.8" fill="#ff6163" stroke="#fc4143" stroke-width="0.8"/>
<rect x="1000.57" y="473.5" width="2.08" height="20.8" fill="#ff6163" stroke="#fc4143" stroke-width="0.8"/>
<rect x="1002.65" y="474.4" width="2.08" height="19.9" fill="#47c48b" stroke="#27b876" stroke-width="0.8"/>
<rect x="1004.73" y="471.5" width="2.08" height="22.8" fill="#ff6163" stroke="#fc4143" stroke-width="0.8"/>
<rect x="1006.82" y="447.4" width="2.08" height="46.9" fill="#ff6163" stroke="#fc4143" stroke-width="0.8"/>
<rect x="1008.90" y="475.4" width="2.08" height="18.9" fill="#47c48b" stroke="#27b876" stroke-width="0.8"/>
<rect x="1010.99" y="470.5" width="2.08" height="23.8" fill="#47c48b" stroke="#27b876" stroke-width="0.8"/>
<rect x="1013.07" y="476.5" width="2.08" height="17.8" fill="#ff6163" stroke="#fc4143" stroke-width="0.8"/>
<rect x="1015.15" y="470.5" width="2.08" height="23.8" fill="#47c48b" stroke="#27b876" stroke-width="0.8"/>
<rect x="1017.24" y="481.5" width="2.08" height="12.8" fill="#47c48b" stroke="#27b876" stroke-width="0.8"/>
<rect x="1019.32" y="479.5" width="2.08" height="14.8" fill="#47c48b" stroke="#27b876" stroke-width="0.8"/>
<rect x="1021.40" y="468.5" width="2.08" height="25.8" fill="#47c48b" stroke="#27b876" stroke-width="0.8"/>
<rect x="1023.49" y="465.5" width="2.08" height="28.8" fill="#ff6163" stroke="#fc4143" stroke-width="0.8"/>
<rect x="1025.57" y="470.5" width="2.08" height="23.8" fill="#ff6163" stroke="#fc4143" stroke-width="0.8"/>
<rect x="1027.65" y="479.5" width="2.08" height="14.8" fill="#47c48b" stroke="#27b876" stroke-width="0.8"/>
<rect x="1029.74" y="479.5" width="2.08" height="14.8" fill="#ff6163" stroke="#fc4143" stroke-width="0.8"/>
<rect x="1031.82" y="482.5" width="2.08" height="11.8" fill="#47c48b" stroke="#27b876" stroke-width="0.8"/>
<rect x="1033.90" y="475.4" width="2.08" height="18.9" fill="#47c48b" stroke="#27b876" stroke-width="0.8"/>
<rect x="1035.99" y="462.5" width="2.08" height="31.8" fill="#47c48b" stroke="#27b876" stroke-width="0.8"/>
<rect x="1038.07" y="483.4" width="2.08" height="10.9" fill="#47c48b" stroke="#27b876" stroke-width="0.8"/>
</g>
<g>
<line x1="257.80" y1="347.2" x2="257.80" y2="358.8" stroke="#757575" stroke-width="0.9"/>
<rect x="256.80" y="348.9" width="2.0" height="4.7" fill="#fd4a4c" fill-opacity="0.95"/>
<line x1="259.88" y1="335.0" x2="259.88" y2="357.7" stroke="#757575" stroke-width="0.9"/>
<rect x="258.88" y="336.1" width="2.0" height="17.5" fill="#27b876" fill-opacity="0.95"/>
<line x1="261.97" y1="325.0" x2="261.97" y2="337.3" stroke="#757575" stroke-width="0.9"/>
<rect x="260.97" y="325.0" width="2.0" height="5.8" fill="#27b876" fill-opacity="0.95"/>
<line x1="264.05" y1="315.7" x2="264.05" y2="330.2" stroke="#757575" stroke-width="0.9"/>
<rect x="263.05" y="316.2" width="2.0" height="12.9" fill="#27b876" fill-opacity="0.95"/>
<line x1="266.13" y1="312.7" x2="266.13" y2="320.9" stroke="#757575" stroke-width="0.9"/>
<rect x="265.13" y="313.3" width="2.0" height="7.6" fill="#fd4a4c" fill-opacity="0.95"/>
<line x1="268.22" y1="319.7" x2="268.22" y2="341.3" stroke="#757575" stroke-width="0.9"/>
<rect x="267.22" y="320.3" width="2.0" height="13.4" fill="#fd4a4c" fill-opacity="0.95"/>
<line x1="270.30" y1="324.4" x2="270.30" y2="333.2" stroke="#757575" stroke-width="0.9"/>
<rect x="269.30" y="328.0" width="2.0" height="0.6" fill="#fd4a4c" fill-opacity="0.95"/>
<line x1="272.38" y1="320.3" x2="272.38" y2="330.8" stroke="#757575" stroke-width="0.9"/>
<rect x="271.38" y="322.0" width="2.0" height="6.5" fill="#27b876" fill-opacity="0.95"/>
<line x1="274.47" y1="321.0" x2="274.47" y2="331.4" stroke="#757575" stroke-width="0.9"/>
<rect x="273.47" y="325.6" width="2.0" height="0.6" fill="#27b876" fill-opacity="0.95"/>
<line x1="276.55" y1="309.2" x2="276.55" y2="325.0" stroke="#757575" stroke-width="0.9"/>
<rect x="275.55" y="318.0" width="2.0" height="7.0" fill="#fd4a4c" fill-opacity="0.95"/>
<line x1="278.63" y1="320.3" x2="278.63" y2="335.5" stroke="#757575" stroke-width="0.9"/>
<rect x="277.63" y="330.8" width="2.0" height="2.9" fill="#27b876" fill-opacity="0.95"/>
<line x1="280.72" y1="326.7" x2="280.72" y2="333.2" stroke="#757575" stroke-width="0.9"/>
<rect x="279.72" y="327.9" width="2.0" height="4.7" fill="#fd4a4c" fill-opacity="0.95"/>
<line x1="282.80" y1="321.5" x2="282.80" y2="332.6" stroke="#757575" stroke-width="0.9"/>
<rect x="281.80" y="325.0" width="2.0" height="7.6" fill="#27b876" fill-opacity="0.95"/>
<line x1="284.89" y1="300.5" x2="284.89" y2="326.2" stroke="#757575" stroke-width="0.9"/>
<rect x="283.89" y="304.0" width="2.0" height="18.7" fill="#27b876" fill-opacity="0.95"/>
<line x1="286.97" y1="300.0" x2="286.97" y2="314.5" stroke="#757575" stroke-width="0.9"/>
<rect x="285.97" y="301.7" width="2.0" height="2.3" fill="#27b876" fill-opacity="0.95"/>
<line x1="289.05" y1="284.5" x2="289.05" y2="300.2" stroke="#757575" stroke-width="0.9"/>
<rect x="288.05" y="285.7" width="2.0" height="14.5" fill="#27b876" fill-opacity="0.95"/>
<line x1="291.14" y1="277.7" x2="291.14" y2="292.0" stroke="#757575" stroke-width="0.9"/>
<rect x="290.14" y="284.5" width="2.0" height="1.5" fill="#27b876" fill-opacity="0.95"/>
<line x1="293.22" y1="284.2" x2="293.22" y2="301.7" stroke="#757575" stroke-width="0.9"/>
<rect x="292.22" y="284.2" width="2.0" height="16.8" fill="#fd4a4c" fill-opacity="0.95"/>
<line x1="295.30" y1="280.7" x2="295.30" y2="302.5" stroke="#757575" stroke-width="0.9"/>
<rect x="294.30" y="280.7" width="2.0" height="21.0" fill="#27b876" fill-opacity="0.95"/>
<line x1="297.39" y1="274.7" x2="297.39" y2="286.7" stroke="#757575" stroke-width="0.9"/>
<rect x="296.39" y="284.5" width="2.0" height="1.5" fill="#fd4a4c" fill-opacity="0.95"/>
<line x1="299.47" y1="276.2" x2="299.47" y2="287.5" stroke="#757575" stroke-width="0.9"/>
<rect x="298.47" y="284.2" width="2.0" height="3.0" fill="#fd4a4c" fill-opacity="0.95"/>
<line x1="301.55" y1="283.7" x2="301.55" y2="295.0" stroke="#757575" stroke-width="0.9"/>
<rect x="300.55" y="286.0" width="2.0" height="6.7" fill="#fd4a4c" fill-opacity="0.95"/>
<line x1="303.64" y1="289.7" x2="303.64" y2="302.5" stroke="#757575" stroke-width="0.9"/>
<rect x="302.64" y="292.0" width="2.0" height="3.7" fill="#27b876" fill-opacity="0.95"/>
<line x1="305.72" y1="293.8" x2="305.72" y2="305.5" stroke="#757575" stroke-width="0.9"/>
<rect x="304.72" y="293.8" width="2.0" height="3.9" fill="#27b876" fill-opacity="0.95"/>
<line x1="307.80" y1="297.2" x2="307.80" y2="310.7" stroke="#757575" stroke-width="0.9"/>
<rect x="306.80" y="297.2" width="2.0" height="13.5" fill="#fd4a4c" fill-opacity="0.95"/>
<line x1="309.89" y1="313.0" x2="309.89" y2="323.5" stroke="#757575" stroke-width="0.9"/>
<rect x="308.89" y="313.0" width="2.0" height="4.8" fill="#27b876" fill-opacity="0.95"/>
<line x1="311.97" y1="301.7" x2="311.97" y2="314.5" stroke="#757575" stroke-width="0.9"/>
<rect x="310.97" y="304.7" width="2.0" height="9.0" fill="#27b876" fill-opacity="0.95"/>
<line x1="314.05" y1="301.7" x2="314.05" y2="307.7" stroke="#757575" stroke-width="0.9"/>
<rect x="313.05" y="302.5" width="2.0" height="5.2" fill="#fd4a4c" fill-opacity="0.95"/>
<line x1="316.14" y1="308.5" x2="316.14" y2="314.5" stroke="#757575" stroke-width="0.9"/>
<rect x="315.14" y="311.2" width="2.0" height="2.5" fill="#fd4a4c" fill-opacity="0.95"/>
<line x1="318.22" y1="308.5" x2="318.22" y2="318.2" stroke="#757575" stroke-width="0.9"/>
<rect x="317.22" y="313.0" width="2.0" height="3.7" fill="#27b876" fill-opacity="0.95"/>
<line x1="320.31" y1="302.5" x2="320.31" y2="317.5" stroke="#757575" stroke-width="0.9"/>
<rect x="319.31" y="303.2" width="2.0" height="10.5" fill="#27b876" fill-opacity="0.95"/>
<line x1="322.39" y1="294.2" x2="322.39" y2="307.0" stroke="#757575" stroke-width="0.9"/>
<rect x="321.39" y="301.3" width="2.0" height="1.9" fill="#27b876" fill-opacity="0.95"/>
<line x1="324.47" y1="280.7" x2="324.47" y2="302.5" stroke="#757575" stroke-width="0.9"/>
<rect x="323.47" y="289.0" width="2.0" height="6.7" fill="#27b876" fill-opacity="0.95"/>
<line x1="326.56" y1="277.7" x2="326.56" y2="292.7" stroke="#757575" stroke-width="0.9"/>
<rect x="325.56" y="284.2" width="2.0" height="8.5" fill="#fd4a4c" fill-opacity="0.95"/>
<line x1="328.64" y1="284.5" x2="328.64" y2="308.5" stroke="#757575" stroke-width="0.9"/>
<rect x="327.64" y="294.2" width="2.0" height="3.0" fill="#27b876" fill-opacity="0.95"/>
<line x1="330.72" y1="276.2" x2="330.72" y2="301.7" stroke="#757575" stroke-width="0.9"/>
<rect x="329.72" y="277.0" width="2.0" height="24.7" fill="#fd4a4c" fill-opacity="0.95"/>
<line x1="332.81" y1="299.5" x2="332.81" y2="317.5" stroke="#757575" stroke-width="0.9"/>
<rect x="331.81" y="299.5" width="2.0" height="9.0" fill="#27b876" fill-opacity="0.95"/>
<line x1="334.89" y1="295.7" x2="334.89" y2="315.2" stroke="#757575" stroke-width="0.9"/>
<rect x="333.89" y="297.2" width="2.0" height="17.2" fill="#fd4a4c" fill-opacity="0.95"/>
<line x1="336.97" y1="302.5" x2="336.97" y2="318.2" stroke="#757575" stroke-width="0.9"/>
<rect x="335.97" y="309.2" width="2.0" height="3.0" fill="#27b876" fill-opacity="0.95"/>
<line x1="339.06" y1="313.0" x2="339.06" y2="319.7" stroke="#757575" stroke-width="0.9"/>
<rect x="338.06" y="313.0" width="2.0" height="3.0" fill="#fd4a4c" fill-opacity="0.95"/>
<line x1="341.14" y1="317.2" x2="341.14" y2="326.5" stroke="#757575" stroke-width="0.9"/>
<rect x="340.14" y="317.2" width="2.0" height="7.8" fill="#fd4a4c" fill-opacity="0.95"/>
<line x1="343.22" y1="322.0" x2="343.22" y2="341.5" stroke="#757575" stroke-width="0.9"/>
<rect x="342.22" y="325.7" width="2.0" height="4.5" fill="#fd4a4c" fill-opacity="0.95"/>
<line x1="345.31" y1="322.0" x2="345.31" y2="329.5" stroke="#757575" stroke-width="0.9"/>
<rect x="344.31" y="322.0" width="2.0" height="6.7" fill="#27b876" fill-opacity="0.95"/>
<line x1="347.39" y1="320.5" x2="347.39" y2="326.5" stroke="#757575" stroke-width="0.9"/>
<rect x="346.39" y="321.2" width="2.0" height="3.0" fill="#27b876" fill-opacity="0.95"/>
<line x1="349.47" y1="312.2" x2="349.47" y2="327.2" stroke="#757575" stroke-width="0.9"/>
<rect x="348.47" y="316.7" width="2.0" height="5.2" fill="#27b876" fill-opacity="0.95"/>
<line x1="351.56" y1="310.0" x2="351.56" y2="323.5" stroke="#757575" stroke-width="0.9"/>
<rect x="350.56" y="314.5" width="2.0" height="2.2" fill="#27b876" fill-opacity="0.95"/>
<line x1="353.64" y1="304.3" x2="353.64" y2="314.5" stroke="#757575" stroke-width="0.9"/>
<rect x="352.64" y="310.0" width="2.0" height="1.8" fill="#27b876" fill-opacity="0.95"/>
<line x1="355.72" y1="304.3" x2="355.72" y2="314.5" stroke="#757575" stroke-width="0.9"/>
<rect x="354.72" y="310.0" width="2.0" height="3.7" fill="#fd4a4c" fill-opacity="0.95"/>
<line x1="357.81" y1="308.5" x2="357.81" y2="319.0" stroke="#757575" stroke-width="0.9"/>
<rect x="356.81" y="310.7" width="2.0" height="3.0" fill="#fd4a4c" fill-opacity="0.95"/>
<line x1="359.89" y1="313.0" x2="359.89" y2="324.2" stroke="#757575" stroke-width="0.9"/>
<rect x="358.89" y="313.0" width="2.0" height="7.8" fill="#fd4a4c" fill-opacity="0.95"/>
<line x1="361.98" y1="320.5" x2="361.98" y2="341.5" stroke="#757575" stroke-width="0.9"/>
<rect x="360.98" y="331.0" width="2.0" height="4.5" fill="#fd4a4c" fill-opacity="0.95"/>
<line x1="364.06" y1="317.5" x2="364.06" y2="328.0" stroke="#757575" stroke-width="0.9"/>
<rect x="363.06" y="324.2" width="2.0" height="3.7" fill="#27b876" fill-opacity="0.95"/>
<line x1="366.14" y1="325.0" x2="366.14" y2="337.0" stroke="#757575" stroke-width="0.9"/>
<rect x="365.14" y="328.0" width="2.0" height="8.7" fill="#fd4a4c" fill-opacity="0.95"/>
<line x1="368.23" y1="325.7" x2="368.23" y2="335.5" stroke="#757575" stroke-width="0.9"/>
<rect x="367.23" y="328.7" width="2.0" height="3.0" fill="#27b876" fill-opacity="0.95"/>
<line x1="370.31" y1="324.2" x2="370.31" y2="331.0" stroke="#757575" stroke-width="0.9"/>
<rect x="369.31" y="324.2" width="2.0" height="5.2" fill="#27b876" fill-opacity="0.95"/>
<line x1="372.39" y1="316.7" x2="372.39" y2="325.0" stroke="#757575" stroke-width="0.9"/>
<rect x="371.39" y="321.2" width="2.0" height="3.0" fill="#27b876" fill-opacity="0.95"/>
<line x1="374.48" y1="321.2" x2="374.48" y2="328.7" stroke="#757575" stroke-width="0.9"/>
<rect x="373.48" y="322.0" width="2.0" height="6.0" fill="#fd4a4c" fill-opacity="0.95"/>
<line x1="376.56" y1="316.7" x2="376.56" y2="328.0" stroke="#757575" stroke-width="0.9"/>
<rect x="375.56" y="322.7" width="2.0" height="5.2" fill="#27b876" fill-opacity="0.95"/>
<line x1="378.64" y1="307.0" x2="378.64" y2="322.7" stroke="#757575" stroke-width="0.9"/>
<rect x="377.64" y="307.0" width="2.0" height="13.5" fill="#27b876" fill-opacity="0.95"/>
<line x1="380.73" y1="294.2" x2="380.73" y2="308.5" stroke="#757575" stroke-width="0.9"/>
<rect x="379.73" y="300.2" width="2.0" height="6.7" fill="#27b876" fill-opacity="0.95"/>
<line x1="382.81" y1="292.7" x2="382.81" y2="302.5" stroke="#757575" stroke-width="0.9"/>
<rect x="381.81" y="297.2" width="2.0" height="3.7" fill="#27b876" fill-opacity="0.95"/>
<line x1="384.89" y1="295.7" x2="384.89" y2="307.0" stroke="#757575" stroke-width="0.9"/>
<rect x="383.89" y="299.2" width="2.0" height="5.5" fill="#fd4a4c" fill-opacity="0.95"/>
<line x1="386.98" y1="305.5" x2="386.98" y2="315.2" stroke="#757575" stroke-width="0.9"/>
<rect x="385.98" y="305.5" width="2.0" height="6.0" fill="#27b876" fill-opacity="0.95"/>
<line x1="389.06" y1="303.2" x2="389.06" y2="313.0" stroke="#757575" stroke-width="0.9"/>
<rect x="388.06" y="306.2" width="2.0" height="2.2" fill="#27b876" fill-opacity="0.95"/>
<line x1="391.14" y1="300.2" x2="391.14" y2="310.0" stroke="#757575" stroke-width="0.9"/>
<rect x="390.14" y="300.2" width="2.0" height="6.7" fill="#27b876" fill-opacity="0.95"/>
<line x1="393.23" y1="302.5" x2="393.23" y2="308.5" stroke="#757575" stroke-width="0.9"/>
<rect x="392.23" y="303.2" width="2.0" height="3.0" fill="#27b876" fill-opacity="0.95"/>
<line x1="395.31" y1="295.7" x2="395.31" y2="304.0" stroke="#757575" stroke-width="0.9"/>
<rect x="394.31" y="300.2" width="2.0" height="3.0" fill="#27b876" fill-opacity="0.95"/>
<line x1="397.39" y1="289.7" x2="397.39" y2="301.7" stroke="#757575" stroke-width="0.9"/>
<rect x="396.39" y="297.2" width="2.0" height="3.7" fill="#27b876" fill-opacity="0.95"/>
<line x1="399.48" y1="291.2" x2="399.48" y2="301.0" stroke="#757575" stroke-width="0.9"/>
<rect x="398.48" y="295.7" width="2.0" height="1.5" fill="#27b876" fill-opacity="0.95"/>
<line x1="401.56" y1="280.0" x2="401.56" y2="298.0" stroke="#757575" stroke-width="0.9"/>
<rect x="400.56" y="280.0" width="2.0" height="17.2" fill="#27b876" fill-opacity="0.95"/>
<line x1="403.64" y1="274.0" x2="403.64" y2="286.7" stroke="#757575" stroke-width="0.9"/>
<rect x="402.64" y="275.5" width="2.0" height="10.5" fill="#27b876" fill-opacity="0.95"/>
<line x1="405.73" y1="270.2" x2="405.73" y2="283.0" stroke="#757575" stroke-width="0.9"/>
<rect x="404.73" y="273.2" width="2.0" height="8.5" fill="#fd4a4c" fill-opacity="0.95"/>
<line x1="407.81" y1="274.7" x2="407.81" y2="286.0" stroke="#757575" stroke-width="0.9"/>
<rect x="406.81" y="277.7" width="2.0" height="3.0" fill="#27b876" fill-opacity="0.95"/>
<line x1="409.90" y1="272.5" x2="409.90" y2="281.5" stroke="#757575" stroke-width="0.9"/>
<rect x="408.90" y="274.3" width="2.0" height="6.4" fill="#fd4a4c" fill-opacity="0.95"/>
<line x1="411.98" y1="281.5" x2="411.98" y2="299.5" stroke="#757575" stroke-width="0.9"/>
<rect x="410.98" y="283.0" width="2.0" height="15.0" fill="#fd4a4c" fill-opacity="0.95"/>
<line x1="414.06" y1="280.7" x2="414.06" y2="310.0" stroke="#757575" stroke-width="0.9"/>
<rect x="413.06" y="281.5" width="2.0" height="28.5" fill="#27b876" fill-opacity="0.95"/>
<line x1="416.15" y1="287.5" x2="416.15" y2="307.7" stroke="#757575" stroke-width="0.9"/>
<rect x="415.15" y="297.2" width="2.0" height="9.7" fill="#fd4a4c" fill-opacity="0.95"/>
<line x1="418.23" y1="301.0" x2="418.23" y2="319.0" stroke="#757575" stroke-width="0.9"/>
<rect x="417.23" y="308.5" width="2.0" height="3.0" fill="#fd4a4c" fill-opacity="0.95"/>
<line x1="420.31" y1="297.2" x2="420.31" y2="314.5" stroke="#757575" stroke-width="0.9"/>
<rect x="419.31" y="297.2" width="2.0" height="12.7" fill="#27b876" fill-opacity="0.95"/>
<line x1="422.40" y1="292.7" x2="422.40" y2="302.5" stroke="#757575" stroke-width="0.9"/>
<rect x="421.40" y="295.0" width="2.0" height="2.2" fill="#27b876" fill-opacity="0.95"/>
<line x1="424.48" y1="291.2" x2="424.48" y2="301.7" stroke="#757575" stroke-width="0.9"/>
<rect x="423.48" y="295.0" width="2.0" height="1.8" fill="#27b876" fill-opacity="0.95"/>
<line x1="426.56" y1="289.7" x2="426.56" y2="298.7" stroke="#757575" stroke-width="0.9"/>
<rect x="425.56" y="292.7" width="2.0" height="2.2" fill="#27b876" fill-opacity="0.95"/>
<line x1="428.65" y1="283.7" x2="428.65" y2="292.7" stroke="#757575" stroke-width="0.9"/>
<rect x="427.65" y="283.7" width="2.0" height="8.2" fill="#27b876" fill-opacity="0.95"/>
<line x1="430.73" y1="280.0" x2="430.73" y2="286.0" stroke="#757575" stroke-width="0.9"/>
<rect x="429.73" y="280.7" width="2.0" height="3.7" fill="#27b876" fill-opacity="0.95"/>
<line x1="432.81" y1="269.5" x2="432.81" y2="281.5" stroke="#757575" stroke-width="0.9"/>
<rect x="431.81" y="270.2" width="2.0" height="10.5" fill="#fd4a4c" fill-opacity="0.95"/>
<line x1="434.90" y1="275.5" x2="434.90" y2="284.5" stroke="#757575" stroke-width="0.9"/>
<rect x="433.90" y="278.5" width="2.0" height="3.3" fill="#fd4a4c" fill-opacity="0.95"/>
<line x1="436.98" y1="277.0" x2="436.98" y2="285.2" stroke="#757575" stroke-width="0.9"/>
<rect x="435.98" y="280.7" width="2.0" height="3.0" fill="#fd4a4c" fill-opacity="0.95"/>
<line x1="439.06" y1="279.2" x2="439.06" y2="287.5" stroke="#757575" stroke-width="0.9"/>
<rect x="438.06" y="283.0" width="2.0" height="3.7" fill="#fd4a4c" fill-opacity="0.95"/>
<line x1="441.15" y1="283.0" x2="441.15" y2="290.5" stroke="#757575" stroke-width="0.9"/>
<rect x="440.15" y="284.5" width="2.0" height="2.2" fill="#fd4a4c" fill-opacity="0.95"/>
<line x1="443.23" y1="273.2" x2="443.23" y2="285.2" stroke="#757575" stroke-width="0.9"/>
<rect x="442.23" y="276.2" width="2.0" height="9.0" fill="#27b876" fill-opacity="0.95"/>
<line x1="445.31" y1="275.5" x2="445.31" y2="283.0" stroke="#757575" stroke-width="0.9"/>
<rect x="444.31" y="276.2" width="2.0" height="3.7" fill="#27b876" fill-opacity="0.95"/>
<line x1="447.40" y1="271.7" x2="447.40" y2="280.0" stroke="#757575" stroke-width="0.9"/>
<rect x="446.40" y="274.7" width="2.0" height="2.2" fill="#fd4a4c" fill-opacity="0.95"/>
<line x1="449.48" y1="267.2" x2="449.48" y2="278.5" stroke="#757575" stroke-width="0.9"/>
<rect x="448.48" y="272.5" width="2.0" height="1.8" fill="#27b876" fill-opacity="0.95"/>
<line x1="451.57" y1="262.0" x2="451.57" y2="275.5" stroke="#757575" stroke-width="0.9"/>
<rect x="450.57" y="269.5" width="2.0" height="4.8" fill="#fd4a4c" fill-opacity="0.95"/>
<line x1="453.65" y1="260.5" x2="453.65" y2="270.2" stroke="#757575" stroke-width="0.9"/>
<rect x="452.65" y="261.2" width="2.0" height="8.2" fill="#27b876" fill-opacity="0.95"/>
<line x1="455.73" y1="257.5" x2="455.73" y2="265.0" stroke="#757575" stroke-width="0.9"/>
<rect x="454.73" y="260.5" width="2.0" height="3.7" fill="#fd4a4c" fill-opacity="0.95"/>
<line x1="457.82" y1="253.7" x2="457.82" y2="264.2" stroke="#757575" stroke-width="0.9"/>
<rect x="456.82" y="256.0" width="2.0" height="7.5" fill="#27b876" fill-opacity="0.95"/>
<line x1="459.90" y1="250.0" x2="459.90" y2="256.0" stroke="#757575" stroke-width="0.9"/>
<rect x="458.90" y="251.5" width="2.0" height="3.7" fill="#27b876" fill-opacity="0.95"/>
<line x1="461.98" y1="238.2" x2="461.98" y2="256.2" stroke="#757575" stroke-width="0.9"/>
<rect x="460.98" y="246.5" width="2.0" height="9.0" fill="#27b876" fill-opacity="0.95"/>
<line x1="464.07" y1="243.5" x2="464.07" y2="254.0" stroke="#757575" stroke-width="0.9"/>
<rect x="463.07" y="245.0" width="2.0" height="5.2" fill="#27b876" fill-opacity="0.95"/>
<line x1="466.15" y1="230.0" x2="466.15" y2="245.0" stroke="#757575" stroke-width="0.9"/>
<rect x="465.15" y="230.0" width="2.0" height="9.7" fill="#27b876" fill-opacity="0.95"/>
<line x1="468.23" y1="226.2" x2="468.23" y2="232.2" stroke="#757575" stroke-width="0.9"/>
<rect x="467.23" y="229.2" width="2.0" height="2.2" fill="#fd4a4c" fill-opacity="0.95"/>
<line x1="470.32" y1="229.2" x2="470.32" y2="238.2" stroke="#757575" stroke-width="0.9"/>
<rect x="469.32" y="230.7" width="2.0" height="1.5" fill="#27b876" fill-opacity="0.95"/>
<line x1="472.40" y1="230.0" x2="472.40" y2="240.5" stroke="#757575" stroke-width="0.9"/>
<rect x="471.40" y="232.2" width="2.0" height="1.9" fill="#fd4a4c" fill-opacity="0.95"/>
<line x1="474.48" y1="231.5" x2="474.48" y2="237.5" stroke="#757575" stroke-width="0.9"/>
<rect x="473.48" y="233.3" width="2.0" height="1.5" fill="#27b876" fill-opacity="0.95"/>
<line x1="476.57" y1="227.7" x2="476.57" y2="237.5" stroke="#757575" stroke-width="0.9"/>
<rect x="475.57" y="227.7" width="2.0" height="9.7" fill="#27b876" fill-opacity="0.95"/>
<line x1="478.65" y1="220.2" x2="478.65" y2="228.5" stroke="#757575" stroke-width="0.9"/>
<rect x="477.65" y="224.0" width="2.0" height="3.7" fill="#fd4a4c" fill-opacity="0.95"/>
<line x1="480.73" y1="225.5" x2="480.73" y2="237.5" stroke="#757575" stroke-width="0.9"/>
<rect x="479.73" y="226.2" width="2.0" height="6.0" fill="#fd4a4c" fill-opacity="0.95"/>
<line x1="482.82" y1="230.0" x2="482.82" y2="257.7" stroke="#757575" stroke-width="0.9"/>
<rect x="481.82" y="230.0" width="2.0" height="24.7" fill="#fd4a4c" fill-opacity="0.95"/>
<line x1="484.90" y1="242.0" x2="484.90" y2="252.5" stroke="#757575" stroke-width="0.9"/>
<rect x="483.90" y="242.0" width="2.0" height="9.7" fill="#27b876" fill-opacity="0.95"/>
<line x1="486.99" y1="232.2" x2="486.99" y2="242.7" stroke="#757575" stroke-width="0.9"/>
<rect x="485.99" y="239.0" width="2.0" height="2.2" fill="#27b876" fill-opacity="0.95"/>
<line x1="489.07" y1="235.2" x2="489.07" y2="248.0" stroke="#757575" stroke-width="0.9"/>
<rect x="488.07" y="235.2" width="2.0" height="4.5" fill="#27b876" fill-opacity="0.95"/>
<line x1="491.15" y1="233.7" x2="491.15" y2="241.2" stroke="#757575" stroke-width="0.9"/>
<rect x="490.15" y="234.5" width="2.0" height="5.2" fill="#27b876" fill-opacity="0.95"/>
<line x1="493.24" y1="232.2" x2="493.24" y2="236.0" stroke="#757575" stroke-width="0.9"/>
<rect x="492.24" y="233.3" width="2.0" height="1.9" fill="#fd4a4c" fill-opacity="0.95"/>
<line x1="495.32" y1="229.2" x2="495.32" y2="237.5" stroke="#757575" stroke-width="0.9"/>
<rect x="494.32" y="230.0" width="2.0" height="6.7" fill="#27b876" fill-opacity="0.95"/>
<line x1="497.40" y1="225.5" x2="497.40" y2="237.5" stroke="#757575" stroke-width="0.9"/>
<rect x="496.40" y="230.7" width="2.0" height="1.5" fill="#27b876" fill-opacity="0.95"/>
<line x1="499.49" y1="227.7" x2="499.49" y2="236.0" stroke="#757575" stroke-width="0.9"/>
<rect x="498.49" y="230.7" width="2.0" height="3.7" fill="#27b876" fill-opacity="0.95"/>
<line x1="501.57" y1="230.0" x2="501.57" y2="246.5" stroke="#757575" stroke-width="0.9"/>
<rect x="500.57" y="233.0" width="2.0" height="12.7" fill="#fd4a4c" fill-opacity="0.95"/>
<line x1="503.65" y1="242.7" x2="503.65" y2="263.0" stroke="#757575" stroke-width="0.9"/>
<rect x="502.65" y="243.8" width="2.0" height="18.4" fill="#fd4a4c" fill-opacity="0.95"/>
<line x1="505.74" y1="261.5" x2="505.74" y2="276.5" stroke="#757575" stroke-width="0.9"/>
<rect x="504.74" y="261.5" width="2.0" height="4.5" fill="#fd4a4c" fill-opacity="0.95"/>
<line x1="507.82" y1="263.0" x2="507.82" y2="274.2" stroke="#757575" stroke-width="0.9"/>
<rect x="506.82" y="263.7" width="2.0" height="7.9" fill="#fd4a4c" fill-opacity="0.95"/>
<line x1="509.90" y1="263.7" x2="509.90" y2="272.7" stroke="#757575" stroke-width="0.9"/>
<rect x="508.90" y="263.7" width="2.0" height="5.2" fill="#27b876" fill-opacity="0.95"/>
<line x1="511.99" y1="257.7" x2="511.99" y2="266.0" stroke="#757575" stroke-width="0.9"/>
<rect x="510.99" y="257.7" width="2.0" height="6.7" fill="#27b876" fill-opacity="0.95"/>
<line x1="514.07" y1="260.0" x2="514.07" y2="269.0" stroke="#757575" stroke-width="0.9"/>
<rect x="513.07" y="262.2" width="2.0" height="2.5" fill="#fd4a4c" fill-opacity="0.95"/>
<line x1="516.15" y1="253.2" x2="516.15" y2="269.0" stroke="#757575" stroke-width="0.9"/>
<rect x="515.15" y="254.0" width="2.0" height="11.2" fill="#27b876" fill-opacity="0.95"/>
<line x1="518.24" y1="239.0" x2="518.24" y2="256.2" stroke="#757575" stroke-width="0.9"/>
<rect x="517.24" y="241.2" width="2.0" height="12.4" fill="#27b876" fill-opacity="0.95"/>
<line x1="520.32" y1="224.0" x2="520.32" y2="239.7" stroke="#757575" stroke-width="0.9"/>
<rect x="519.32" y="232.2" width="2.0" height="4.5" fill="#27b876" fill-opacity="0.95"/>
<line x1="522.40" y1="226.2" x2="522.40" y2="239.7" stroke="#757575" stroke-width="0.9"/>
<rect x="521.40" y="232.2" width="2.0" height="2.2" fill="#27b876" fill-opacity="0.95"/>
<line x1="524.49" y1="213.5" x2="524.49" y2="230.0" stroke="#757575" stroke-width="0.9"/>
<rect x="523.49" y="222.5" width="2.0" height="2.2" fill="#27b876" fill-opacity="0.95"/>
<line x1="526.57" y1="215.0" x2="526.57" y2="230.7" stroke="#757575" stroke-width="0.9"/>
<rect x="525.57" y="218.7" width="2.0" height="12.0" fill="#27b876" fill-opacity="0.95"/>
<line x1="528.65" y1="215.7" x2="528.65" y2="224.0" stroke="#757575" stroke-width="0.9"/>
<rect x="527.65" y="221.0" width="2.0" height="2.2" fill="#fd4a4c" fill-opacity="0.95"/>
<line x1="530.74" y1="224.0" x2="530.74" y2="245.0" stroke="#757575" stroke-width="0.9"/>
<rect x="529.74" y="224.0" width="2.0" height="17.2" fill="#fd4a4c" fill-opacity="0.95"/>
<line x1="532.82" y1="228.5" x2="532.82" y2="241.2" stroke="#757575" stroke-width="0.9"/>
<rect x="531.82" y="233.7" width="2.0" height="6.7" fill="#27b876" fill-opacity="0.95"/>
<line x1="534.91" y1="227.7" x2="534.91" y2="237.5" stroke="#757575" stroke-width="0.9"/>
<rect x="533.91" y="232.2" width="2.0" height="3.7" fill="#fd4a4c" fill-opacity="0.95"/>
<line x1="536.99" y1="233.7" x2="536.99" y2="239.0" stroke="#757575" stroke-width="0.9"/>
<rect x="535.99" y="234.2" width="2.0" height="3.3" fill="#fd4a4c" fill-opacity="0.95"/>
<line x1="539.07" y1="226.2" x2="539.07" y2="233.7" stroke="#757575" stroke-width="0.9"/>
<rect x="538.07" y="227.0" width="2.0" height="5.2" fill="#27b876" fill-opacity="0.95"/>
<line x1="541.16" y1="221.7" x2="541.16" y2="236.0" stroke="#757575" stroke-width="0.9"/>
<rect x="540.16" y="222.2" width="2.0" height="13.0" fill="#fd4a4c" fill-opacity="0.95"/>
<line x1="543.24" y1="232.2" x2="543.24" y2="239.0" stroke="#757575" stroke-width="0.9"/>
<rect x="542.24" y="234.8" width="2.0" height="1.9" fill="#fd4a4c" fill-opacity="0.95"/>
<line x1="545.32" y1="243.5" x2="545.32" y2="255.5" stroke="#757575" stroke-width="0.9"/>
<rect x="544.32" y="245.7" width="2.0" height="3.0" fill="#fd4a4c" fill-opacity="0.95"/>
<line x1="547.41" y1="244.2" x2="547.41" y2="251.0" stroke="#757575" stroke-width="0.9"/>
<rect x="546.41" y="245.0" width="2.0" height="5.2" fill="#27b876" fill-opacity="0.95"/>
<line x1="549.49" y1="241.2" x2="549.49" y2="253.2" stroke="#757575" stroke-width="0.9"/>
<rect x="548.49" y="248.0" width="2.0" height="4.8" fill="#fd4a4c" fill-opacity="0.95"/>
<line x1="551.57" y1="248.0" x2="551.57" y2="251.7" stroke="#757575" stroke-width="0.9"/>
<rect x="550.57" y="249.2" width="2.0" height="1.8" fill="#fd4a4c" fill-opacity="0.95"/>
<line x1="553.66" y1="245.7" x2="553.66" y2="269.0" stroke="#757575" stroke-width="0.9"/>
<rect x="552.66" y="255.2" width="2.0" height="6.3" fill="#fd4a4c" fill-opacity="0.95"/>
<line x1="555.74" y1="260.0" x2="555.74" y2="280.2" stroke="#757575" stroke-width="0.9"/>
<rect x="554.74" y="265.2" width="2.0" height="14.2" fill="#fd4a4c" fill-opacity="0.95"/>
<line x1="557.82" y1="273.5" x2="557.82" y2="287.0" stroke="#757575" stroke-width="0.9"/>
<rect x="556.82" y="273.5" width="2.0" height="3.0" fill="#fd4a4c" fill-opacity="0.95"/>
<line x1="559.91" y1="265.2" x2="559.91" y2="275.0" stroke="#757575" stroke-width="0.9"/>
<rect x="558.91" y="269.7" width="2.0" height="4.5" fill="#27b876" fill-opacity="0.95"/>
<line x1="561.99" y1="272.0" x2="561.99" y2="281.0" stroke="#757575" stroke-width="0.9"/>
<rect x="560.99" y="273.2" width="2.0" height="4.8" fill="#fd4a4c" fill-opacity="0.95"/>
<line x1="564.07" y1="272.0" x2="564.07" y2="281.0" stroke="#757575" stroke-width="0.9"/>
<rect x="563.07" y="278.0" width="2.0" height="2.2" fill="#27b876" fill-opacity="0.95"/>
<line x1="566.16" y1="264.5" x2="566.16" y2="285.5" stroke="#757575" stroke-width="0.9"/>
<rect x="565.16" y="264.5" width="2.0" height="15.0" fill="#27b876" fill-opacity="0.95"/>
<line x1="568.24" y1="256.2" x2="568.24" y2="269.7" stroke="#757575" stroke-width="0.9"/>
<rect x="567.24" y="257.0" width="2.0" height="12.0" fill="#27b876" fill-opacity="0.95"/>
<line x1="570.33" y1="253.2" x2="570.33" y2="261.5" stroke="#757575" stroke-width="0.9"/>
<rect x="569.33" y="254.3" width="2.0" height="6.4" fill="#fd4a4c" fill-opacity="0.95"/>
<line x1="572.41" y1="251.7" x2="572.41" y2="267.5" stroke="#757575" stroke-width="0.9"/>
<rect x="571.41" y="258.5" width="2.0" height="1.5" fill="#27b876" fill-opacity="0.95"/>
<line x1="574.49" y1="252.5" x2="574.49" y2="266.7" stroke="#757575" stroke-width="0.9"/>
<rect x="573.49" y="258.8" width="2.0" height="1.5" fill="#fd4a4c" fill-opacity="0.95"/>
<line x1="576.58" y1="253.0" x2="576.58" y2="265.7" stroke="#757575" stroke-width="0.9"/>
<rect x="575.58" y="259.3" width="2.0" height="2.4" fill="#27b876" fill-opacity="0.95"/>
<line x1="578.66" y1="234.2" x2="578.66" y2="255.2" stroke="#757575" stroke-width="0.9"/>
<rect x="577.66" y="234.2" width="2.0" height="20.2" fill="#27b876" fill-opacity="0.95"/>
<line x1="580.74" y1="233.5" x2="580.74" y2="241.7" stroke="#757575" stroke-width="0.9"/>
<rect x="579.74" y="234.2" width="2.0" height="1.9" fill="#fd4a4c" fill-opacity="0.95"/>
<line x1="582.83" y1="226.0" x2="582.83" y2="241.7" stroke="#757575" stroke-width="0.9"/>
<rect x="581.83" y="226.0" width="2.0" height="15.0" fill="#27b876" fill-opacity="0.95"/>
<line x1="584.91" y1="225.2" x2="584.91" y2="230.5" stroke="#757575" stroke-width="0.9"/>
<rect x="583.91" y="226.3" width="2.0" height="3.4" fill="#fd4a4c" fill-opacity="0.95"/>
<line x1="586.99" y1="227.5" x2="586.99" y2="237.2" stroke="#757575" stroke-width="0.9"/>
<rect x="585.99" y="228.2" width="2.0" height="1.9" fill="#fd4a4c" fill-opacity="0.95"/>
<line x1="589.08" y1="226.0" x2="589.08" y2="239.5" stroke="#757575" stroke-width="0.9"/>
<rect x="588.08" y="229.0" width="2.0" height="2.2" fill="#27b876" fill-opacity="0.95"/>
<line x1="591.16" y1="225.2" x2="591.16" y2="236.5" stroke="#757575" stroke-width="0.9"/>
<rect x="590.16" y="232.0" width="2.0" height="3.7" fill="#fd4a4c" fill-opacity="0.95"/>
<line x1="593.24" y1="234.2" x2="593.24" y2="245.5" stroke="#757575" stroke-width="0.9"/>
<rect x="592.24" y="235.0" width="2.0" height="8.2" fill="#27b876" fill-opacity="0.95"/>
<line x1="595.33" y1="232.7" x2="595.33" y2="241.7" stroke="#757575" stroke-width="0.9"/>
<rect x="594.33" y="237.2" width="2.0" height="3.7" fill="#27b876" fill-opacity="0.95"/>
<line x1="597.41" y1="229.7" x2="597.41" y2="243.2" stroke="#757575" stroke-width="0.9"/>
<rect x="596.41" y="229.7" width="2.0" height="6.0" fill="#27b876" fill-opacity="0.95"/>
<line x1="599.49" y1="225.2" x2="599.49" y2="239.5" stroke="#757575" stroke-width="0.9"/>
<rect x="598.49" y="231.2" width="2.0" height="2.2" fill="#fd4a4c" fill-opacity="0.95"/>
<line x1="601.58" y1="236.5" x2="601.58" y2="256.7" stroke="#757575" stroke-width="0.9"/>
<rect x="600.58" y="237.2" width="2.0" height="18.7" fill="#fd4a4c" fill-opacity="0.95"/>
<line x1="603.66" y1="251.5" x2="603.66" y2="259.7" stroke="#757575" stroke-width="0.9"/>
<rect x="602.66" y="255.2" width="2.0" height="3.0" fill="#27b876" fill-opacity="0.95"/>
<line x1="605.74" y1="254.5" x2="605.74" y2="260.5" stroke="#757575" stroke-width="0.9"/>
<rect x="604.74" y="255.2" width="2.0" height="4.5" fill="#fd4a4c" fill-opacity="0.95"/>
<line x1="607.83" y1="258.2" x2="607.83" y2="262.7" stroke="#757575" stroke-width="0.9"/>
<rect x="606.83" y="259.3" width="2.0" height="2.4" fill="#fd4a4c" fill-opacity="0.95"/>
<line x1="609.91" y1="259.7" x2="609.91" y2="268.0" stroke="#757575" stroke-width="0.9"/>
<rect x="608.91" y="260.5" width="2.0" height="3.3" fill="#fd4a4c" fill-opacity="0.95"/>
<line x1="612.00" y1="263.5" x2="612.00" y2="271.7" stroke="#757575" stroke-width="0.9"/>
<rect x="611.00" y="264.2" width="2.0" height="6.7" fill="#fd4a4c" fill-opacity="0.95"/>
<line x1="614.08" y1="264.2" x2="614.08" y2="271.7" stroke="#757575" stroke-width="0.9"/>
<rect x="613.08" y="265.7" width="2.0" height="3.7" fill="#27b876" fill-opacity="0.95"/>
<line x1="616.16" y1="265.0" x2="616.16" y2="275.5" stroke="#757575" stroke-width="0.9"/>
<rect x="615.16" y="268.0" width="2.0" height="7.2" fill="#fd4a4c" fill-opacity="0.95"/>
<line x1="618.25" y1="275.5" x2="618.25" y2="289.0" stroke="#757575" stroke-width="0.9"/>
<rect x="617.25" y="276.2" width="2.0" height="3.0" fill="#fd4a4c" fill-opacity="0.95"/>
<line x1="620.33" y1="275.5" x2="620.33" y2="283.7" stroke="#757575" stroke-width="0.9"/>
<rect x="619.33" y="276.2" width="2.0" height="6.7" fill="#27b876" fill-opacity="0.95"/>
<line x1="622.41" y1="271.0" x2="622.41" y2="283.0" stroke="#757575" stroke-width="0.9"/>
<rect x="621.41" y="276.7" width="2.0" height="1.8" fill="#27b876" fill-opacity="0.95"/>
<line x1="624.50" y1="275.5" x2="624.50" y2="288.2" stroke="#757575" stroke-width="0.9"/>
<rect x="623.50" y="278.5" width="2.0" height="1.8" fill="#fd4a4c" fill-opacity="0.95"/>
<line x1="626.58" y1="271.0" x2="626.58" y2="279.2" stroke="#757575" stroke-width="0.9"/>
<rect x="625.58" y="274.7" width="2.0" height="4.0" fill="#27b876" fill-opacity="0.95"/>
<line x1="628.66" y1="260.5" x2="628.66" y2="274.7" stroke="#757575" stroke-width="0.9"/>
<rect x="627.66" y="261.2" width="2.0" height="10.5" fill="#27b876" fill-opacity="0.95"/>
<line x1="630.75" y1="259.7" x2="630.75" y2="266.5" stroke="#757575" stroke-width="0.9"/>
<rect x="629.75" y="261.2" width="2.0" height="4.5" fill="#fd4a4c" fill-opacity="0.95"/>
<line x1="632.83" y1="264.2" x2="632.83" y2="273.2" stroke="#757575" stroke-width="0.9"/>
<rect x="631.83" y="266.5" width="2.0" height="1.8" fill="#fd4a4c" fill-opacity="0.95"/>
<line x1="634.91" y1="265.5" x2="634.91" y2="276.0" stroke="#757575" stroke-width="0.9"/>
<rect x="633.91" y="269.2" width="2.0" height="1.9" fill="#27b876" fill-opacity="0.95"/>
<line x1="637.00" y1="269.2" x2="637.00" y2="283.5" stroke="#757575" stroke-width="0.9"/>
<rect x="636.00" y="271.5" width="2.0" height="3.0" fill="#27b876" fill-opacity="0.95"/>
<line x1="639.08" y1="261.7" x2="639.08" y2="275.2" stroke="#757575" stroke-width="0.9"/>
<rect x="638.08" y="262.5" width="2.0" height="11.2" fill="#27b876" fill-opacity="0.95"/>
<line x1="641.16" y1="258.7" x2="641.16" y2="293.2" stroke="#757575" stroke-width="0.9"/>
<rect x="640.16" y="259.5" width="2.0" height="16.5" fill="#fd4a4c" fill-opacity="0.95"/>
<line x1="643.25" y1="270.0" x2="643.25" y2="280.5" stroke="#757575" stroke-width="0.9"/>
<rect x="642.25" y="273.7" width="2.0" height="4.5" fill="#27b876" fill-opacity="0.95"/>
<line x1="645.33" y1="268.5" x2="645.33" y2="277.5" stroke="#757575" stroke-width="0.9"/>
<rect x="644.33" y="273.0" width="2.0" height="2.2" fill="#27b876" fill-opacity="0.95"/>
<line x1="647.41" y1="263.2" x2="647.41" y2="276.0" stroke="#757575" stroke-width="0.9"/>
<rect x="646.41" y="264.0" width="2.0" height="5.2" fill="#27b876" fill-opacity="0.95"/>
<line x1="649.50" y1="258.0" x2="649.50" y2="267.7" stroke="#757575" stroke-width="0.9"/>
<rect x="648.50" y="258.0" width="2.0" height="4.5" fill="#27b876" fill-opacity="0.95"/>
<line x1="651.58" y1="242.2" x2="651.58" y2="251.2" stroke="#757575" stroke-width="0.9"/>
<rect x="650.58" y="246.0" width="2.0" height="4.5" fill="#27b876" fill-opacity="0.95"/>
<line x1="653.66" y1="242.2" x2="653.66" y2="258.0" stroke="#757575" stroke-width="0.9"/>
<rect x="652.66" y="243.0" width="2.0" height="14.2" fill="#fd4a4c" fill-opacity="0.95"/>
<line x1="655.75" y1="249.0" x2="655.75" y2="263.2" stroke="#757575" stroke-width="0.9"/>
<rect x="654.75" y="249.7" width="2.0" height="8.2" fill="#27b876" fill-opacity="0.95"/>
<line x1="657.83" y1="246.7" x2="657.83" y2="258.0" stroke="#757575" stroke-width="0.9"/>
<rect x="656.83" y="249.7" width="2.0" height="6.7" fill="#fd4a4c" fill-opacity="0.95"/>
<line x1="659.92" y1="249.7" x2="659.92" y2="258.0" stroke="#757575" stroke-width="0.9"/>
<rect x="658.92" y="254.2" width="2.0" height="3.0" fill="#27b876" fill-opacity="0.95"/>
<line x1="662.00" y1="249.0" x2="662.00" y2="271.5" stroke="#757575" stroke-width="0.9"/>
<rect x="661.00" y="249.7" width="2.0" height="12.7" fill="#fd4a4c" fill-opacity="0.95"/>
<line x1="664.08" y1="246.7" x2="664.08" y2="261.7" stroke="#757575" stroke-width="0.9"/>
<rect x="663.08" y="253.5" width="2.0" height="3.0" fill="#27b876" fill-opacity="0.95"/>
<line x1="666.17" y1="239.2" x2="666.17" y2="252.0" stroke="#757575" stroke-width="0.9"/>
<rect x="665.17" y="239.2" width="2.0" height="12.0" fill="#27b876" fill-opacity="0.95"/>
<line x1="668.25" y1="236.2" x2="668.25" y2="253.5" stroke="#757575" stroke-width="0.9"/>
<rect x="667.25" y="239.2" width="2.0" height="6.0" fill="#fd4a4c" fill-opacity="0.95"/>
<line x1="670.33" y1="231.7" x2="670.33" y2="247.5" stroke="#757575" stroke-width="0.9"/>
<rect x="669.33" y="231.7" width="2.0" height="5.2" fill="#27b876" fill-opacity="0.95"/>
<line x1="672.42" y1="230.2" x2="672.42" y2="234.0" stroke="#757575" stroke-width="0.9"/>
<rect x="671.42" y="232.5" width="2.0" height="1.2" fill="#fd4a4c" fill-opacity="0.95"/>
<line x1="674.50" y1="231.0" x2="674.50" y2="243.0" stroke="#757575" stroke-width="0.9"/>
<rect x="673.50" y="234.0" width="2.0" height="1.5" fill="#27b876" fill-opacity="0.95"/>
<line x1="676.58" y1="232.5" x2="676.58" y2="242.2" stroke="#757575" stroke-width="0.9"/>
<rect x="675.58" y="233.2" width="2.0" height="3.0" fill="#27b876" fill-opacity="0.95"/>
<line x1="678.67" y1="228.0" x2="678.67" y2="237.7" stroke="#757575" stroke-width="0.9"/>
<rect x="677.67" y="231.7" width="2.0" height="5.2" fill="#27b876" fill-opacity="0.95"/>
<line x1="680.75" y1="229.5" x2="680.75" y2="240.0" stroke="#757575" stroke-width="0.9"/>
<rect x="679.75" y="234.7" width="2.0" height="4.5" fill="#fd4a4c" fill-opacity="0.95"/>
<line x1="682.83" y1="234.0" x2="682.83" y2="243.7" stroke="#757575" stroke-width="0.9"/>
<rect x="681.83" y="240.7" width="2.0" height="2.2" fill="#fd4a4c" fill-opacity="0.95"/>
<line x1="684.92" y1="232.5" x2="684.92" y2="242.2" stroke="#757575" stroke-width="0.9"/>
<rect x="683.92" y="237.0" width="2.0" height="1.8" fill="#27b876" fill-opacity="0.95"/>
<line x1="687.00" y1="237.0" x2="687.00" y2="246.0" stroke="#757575" stroke-width="0.9"/>
<rect x="686.00" y="237.7" width="2.0" height="7.5" fill="#fd4a4c" fill-opacity="0.95"/>
<line x1="689.08" y1="246.7" x2="689.08" y2="266.2" stroke="#757575" stroke-width="0.9"/>
<rect x="688.08" y="247.5" width="2.0" height="14.2" fill="#fd4a4c" fill-opacity="0.95"/>
<line x1="691.17" y1="245.2" x2="691.17" y2="264.0" stroke="#757575" stroke-width="0.9"/>
<rect x="690.17" y="245.2" width="2.0" height="9.0" fill="#27b876" fill-opacity="0.95"/>
<line x1="693.25" y1="246.7" x2="693.25" y2="252.7" stroke="#757575" stroke-width="0.9"/>
<rect x="692.25" y="249.0" width="2.0" height="3.0" fill="#fd4a4c" fill-opacity="0.95"/>
<line x1="695.34" y1="246.7" x2="695.34" y2="256.5" stroke="#757575" stroke-width="0.9"/>
<rect x="694.34" y="252.0" width="2.0" height="2.2" fill="#27b876" fill-opacity="0.95"/>
<line x1="697.42" y1="250.5" x2="697.42" y2="258.7" stroke="#757575" stroke-width="0.9"/>
<rect x="696.42" y="253.2" width="2.0" height="1.5" fill="#fd4a4c" fill-opacity="0.95"/>
<line x1="699.50" y1="246.0" x2="699.50" y2="255.0" stroke="#757575" stroke-width="0.9"/>
<rect x="698.50" y="249.7" width="2.0" height="2.2" fill="#fd4a4c" fill-opacity="0.95"/>
<line x1="701.59" y1="245.2" x2="701.59" y2="258.0" stroke="#757575" stroke-width="0.9"/>
<rect x="700.59" y="246.0" width="2.0" height="6.0" fill="#fd4a4c" fill-opacity="0.95"/>
<line x1="703.67" y1="249.7" x2="703.67" y2="255.7" stroke="#757575" stroke-width="0.9"/>
<rect x="702.67" y="250.2" width="2.0" height="4.8" fill="#27b876" fill-opacity="0.95"/>
<line x1="705.75" y1="236.2" x2="705.75" y2="248.2" stroke="#757575" stroke-width="0.9"/>
<rect x="704.75" y="240.0" width="2.0" height="6.7" fill="#27b876" fill-opacity="0.95"/>
<line x1="707.84" y1="231.0" x2="707.84" y2="241.5" stroke="#757575" stroke-width="0.9"/>
<rect x="706.84" y="233.2" width="2.0" height="7.5" fill="#27b876" fill-opacity="0.95"/>
<line x1="709.92" y1="226.5" x2="709.92" y2="234.7" stroke="#757575" stroke-width="0.9"/>
<rect x="708.92" y="231.7" width="2.0" height="2.5" fill="#fd4a4c" fill-opacity="0.95"/>
<line x1="712.00" y1="228.7" x2="712.00" y2="241.5" stroke="#757575" stroke-width="0.9"/>
<rect x="711.00" y="231.0" width="2.0" height="6.7" fill="#27b876" fill-opacity="0.95"/>
<line x1="714.09" y1="222.7" x2="714.09" y2="238.5" stroke="#757575" stroke-width="0.9"/>
<rect x="713.09" y="222.7" width="2.0" height="9.7" fill="#27b876" fill-opacity="0.95"/>
<line x1="716.17" y1="227.2" x2="716.17" y2="243.0" stroke="#757575" stroke-width="0.9"/>
<rect x="715.17" y="227.2" width="2.0" height="6.0" fill="#fd4a4c" fill-opacity="0.95"/>
<line x1="718.25" y1="210.0" x2="718.25" y2="231.7" stroke="#757575" stroke-width="0.9"/>
<rect x="717.25" y="219.7" width="2.0" height="11.2" fill="#27b876" fill-opacity="0.95"/>
<line x1="720.34" y1="238.5" x2="720.34" y2="261.7" stroke="#757575" stroke-width="0.9"/>
<rect x="719.34" y="243.7" width="2.0" height="17.2" fill="#fd4a4c" fill-opacity="0.95"/>
<line x1="722.42" y1="263.2" x2="722.42" y2="279.7" stroke="#757575" stroke-width="0.9"/>
<rect x="721.42" y="267.0" width="2.0" height="3.0" fill="#fd4a4c" fill-opacity="0.95"/>
<line x1="724.50" y1="258.0" x2="724.50" y2="272.2" stroke="#757575" stroke-width="0.9"/>
<rect x="723.50" y="258.0" width="2.0" height="13.5" fill="#27b876" fill-opacity="0.95"/>
<line x1="726.59" y1="233.2" x2="726.59" y2="257.2" stroke="#757575" stroke-width="0.9"/>
<rect x="725.59" y="238.5" width="2.0" height="18.0" fill="#27b876" fill-opacity="0.95"/>
<line x1="728.67" y1="233.2" x2="728.67" y2="243.0" stroke="#757575" stroke-width="0.9"/>
<rect x="727.67" y="237.0" width="2.0" height="1.5" fill="#27b876" fill-opacity="0.95"/>
<line x1="730.75" y1="235.5" x2="730.75" y2="246.0" stroke="#757575" stroke-width="0.9"/>
<rect x="729.75" y="236.2" width="2.0" height="8.2" fill="#fd4a4c" fill-opacity="0.95"/>
<line x1="732.84" y1="238.5" x2="732.84" y2="256.5" stroke="#757575" stroke-width="0.9"/>
<rect x="731.84" y="239.2" width="2.0" height="6.7" fill="#27b876" fill-opacity="0.95"/>
<line x1="734.92" y1="237.0" x2="734.92" y2="255.0" stroke="#757575" stroke-width="0.9"/>
<rect x="733.92" y="237.3" width="2.0" height="7.2" fill="#fd4a4c" fill-opacity="0.95"/>
<line x1="737.00" y1="231.0" x2="737.00" y2="246.0" stroke="#757575" stroke-width="0.9"/>
<rect x="736.00" y="231.0" width="2.0" height="9.7" fill="#27b876" fill-opacity="0.95"/>
<line x1="739.09" y1="231.7" x2="739.09" y2="240.7" stroke="#757575" stroke-width="0.9"/>
<rect x="738.09" y="234.3" width="2.0" height="5.7" fill="#fd4a4c" fill-opacity="0.95"/>
<line x1="741.17" y1="233.2" x2="741.17" y2="240.0" stroke="#757575" stroke-width="0.9"/>
<rect x="740.17" y="234.7" width="2.0" height="4.5" fill="#fd4a4c" fill-opacity="0.95"/>
<line x1="743.26" y1="230.2" x2="743.26" y2="239.2" stroke="#757575" stroke-width="0.9"/>
<rect x="742.26" y="231.0" width="2.0" height="6.7" fill="#27b876" fill-opacity="0.95"/>
<line x1="745.34" y1="218.2" x2="745.34" y2="237.0" stroke="#757575" stroke-width="0.9"/>
<rect x="744.34" y="225.0" width="2.0" height="11.2" fill="#27b876" fill-opacity="0.95"/>
<line x1="747.42" y1="219.7" x2="747.42" y2="231.0" stroke="#757575" stroke-width="0.9"/>
<rect x="746.42" y="225.0" width="2.0" height="4.5" fill="#27b876" fill-opacity="0.95"/>
<line x1="749.51" y1="213.0" x2="749.51" y2="224.2" stroke="#757575" stroke-width="0.9"/>
<rect x="748.51" y="217.5" width="2.0" height="2.2" fill="#27b876" fill-opacity="0.95"/>
<line x1="751.59" y1="208.5" x2="751.59" y2="225.0" stroke="#757575" stroke-width="0.9"/>
<rect x="750.59" y="216.7" width="2.0" height="2.2" fill="#fd4a4c" fill-opacity="0.95"/>
<line x1="753.67" y1="204.7" x2="753.67" y2="224.2" stroke="#757575" stroke-width="0.9"/>
<rect x="752.67" y="210.0" width="2.0" height="9.0" fill="#27b876" fill-opacity="0.95"/>
<line x1="755.76" y1="189.0" x2="755.76" y2="207.0" stroke="#757575" stroke-width="0.9"/>
<rect x="754.76" y="197.2" width="2.0" height="7.5" fill="#27b876" fill-opacity="0.95"/>
<line x1="757.84" y1="180.0" x2="757.84" y2="190.5" stroke="#757575" stroke-width="0.9"/>
<rect x="756.84" y="186.0" width="2.0" height="3.0" fill="#27b876" fill-opacity="0.95"/>
<line x1="759.92" y1="181.5" x2="759.92" y2="196.5" stroke="#757575" stroke-width="0.9"/>
<rect x="758.92" y="184.5" width="2.0" height="5.2" fill="#fd4a4c" fill-opacity="0.95"/>
<line x1="762.01" y1="183.0" x2="762.01" y2="194.2" stroke="#757575" stroke-width="0.9"/>
<rect x="761.01" y="186.0" width="2.0" height="6.7" fill="#27b876" fill-opacity="0.95"/>
<line x1="764.09" y1="150.5" x2="764.09" y2="173.0" stroke="#757575" stroke-width="0.9"/>
<rect x="763.09" y="150.5" width="2.0" height="21.7" fill="#27b876" fill-opacity="0.95"/>
<line x1="766.17" y1="133.2" x2="766.17" y2="191.7" stroke="#757575" stroke-width="0.9"/>
<rect x="765.17" y="146.7" width="2.0" height="45.0" fill="#fd4a4c" fill-opacity="0.95"/>
<line x1="768.26" y1="207.7" x2="768.26" y2="251.2" stroke="#757575" stroke-width="0.9"/>
<rect x="767.26" y="212.2" width="2.0" height="38.2" fill="#fd4a4c" fill-opacity="0.95"/>
<line x1="770.34" y1="234.0" x2="770.34" y2="266.2" stroke="#757575" stroke-width="0.9"/>
<rect x="769.34" y="234.0" width="2.0" height="18.7" fill="#27b876" fill-opacity="0.95"/>
<line x1="772.42" y1="242.2" x2="772.42" y2="254.2" stroke="#757575" stroke-width="0.9"/>
<rect x="771.42" y="246.7" width="2.0" height="6.7" fill="#fd4a4c" fill-opacity="0.95"/>
<line x1="774.51" y1="222.0" x2="774.51" y2="247.5" stroke="#757575" stroke-width="0.9"/>
<rect x="773.51" y="224.2" width="2.0" height="15.0" fill="#fd4a4c" fill-opacity="0.95"/>
<line x1="776.59" y1="218.2" x2="776.59" y2="231.0" stroke="#757575" stroke-width="0.9"/>
<rect x="775.59" y="224.2" width="2.0" height="5.2" fill="#27b876" fill-opacity="0.95"/>
<line x1="778.67" y1="207.0" x2="778.67" y2="216.0" stroke="#757575" stroke-width="0.9"/>
<rect x="777.67" y="207.0" width="2.0" height="6.7" fill="#27b876" fill-opacity="0.95"/>
<line x1="780.76" y1="189.7" x2="780.76" y2="207.0" stroke="#757575" stroke-width="0.9"/>
<rect x="779.76" y="190.5" width="2.0" height="15.0" fill="#27b876" fill-opacity="0.95"/>
<line x1="782.84" y1="176.0" x2="782.84" y2="189.5" stroke="#757575" stroke-width="0.9"/>
<rect x="781.84" y="177.5" width="2.0" height="3.7" fill="#27b876" fill-opacity="0.95"/>
<line x1="784.93" y1="174.5" x2="784.93" y2="191.0" stroke="#757575" stroke-width="0.9"/>
<rect x="783.93" y="178.2" width="2.0" height="2.2" fill="#27b876" fill-opacity="0.95"/>
<line x1="787.01" y1="158.7" x2="787.01" y2="179.0" stroke="#757575" stroke-width="0.9"/>
<rect x="786.01" y="158.7" width="2.0" height="17.2" fill="#27b876" fill-opacity="0.95"/>
<line x1="789.09" y1="158.0" x2="789.09" y2="189.5" stroke="#757575" stroke-width="0.9"/>
<rect x="788.09" y="161.0" width="2.0" height="18.7" fill="#fd4a4c" fill-opacity="0.95"/>
<line x1="791.18" y1="162.5" x2="791.18" y2="176.7" stroke="#757575" stroke-width="0.9"/>
<rect x="790.18" y="167.0" width="2.0" height="9.0" fill="#27b876" fill-opacity="0.95"/>
<line x1="793.26" y1="163.2" x2="793.26" y2="179.7" stroke="#757575" stroke-width="0.9"/>
<rect x="792.26" y="169.2" width="2.0" height="3.7" fill="#27b876" fill-opacity="0.95"/>
<line x1="795.34" y1="158.7" x2="795.34" y2="167.7" stroke="#757575" stroke-width="0.9"/>
<rect x="794.34" y="158.7" width="2.0" height="4.5" fill="#27b876" fill-opacity="0.95"/>
<line x1="797.43" y1="149.0" x2="797.43" y2="167.0" stroke="#757575" stroke-width="0.9"/>
<rect x="796.43" y="153.5" width="2.0" height="3.0" fill="#27b876" fill-opacity="0.95"/>
<line x1="799.51" y1="137.7" x2="799.51" y2="155.0" stroke="#757575" stroke-width="0.9"/>
<rect x="798.51" y="143.7" width="2.0" height="2.2" fill="#27b876" fill-opacity="0.95"/>
<line x1="801.59" y1="138.5" x2="801.59" y2="160.2" stroke="#757575" stroke-width="0.9"/>
<rect x="800.59" y="143.0" width="2.0" height="12.0" fill="#fd4a4c" fill-opacity="0.95"/>
<line x1="803.68" y1="142.2" x2="803.68" y2="152.7" stroke="#757575" stroke-width="0.9"/>
<rect x="802.68" y="143.7" width="2.0" height="8.2" fill="#27b876" fill-opacity="0.95"/>
<line x1="805.76" y1="138.5" x2="805.76" y2="146.0" stroke="#757575" stroke-width="0.9"/>
<rect x="804.76" y="139.2" width="2.0" height="5.2" fill="#fd4a4c" fill-opacity="0.95"/>
<line x1="807.84" y1="142.5" x2="807.84" y2="154.5" stroke="#757575" stroke-width="0.9"/>
<rect x="806.84" y="144.0" width="2.0" height="10.5" fill="#fd4a4c" fill-opacity="0.95"/>
<line x1="809.93" y1="150.0" x2="809.93" y2="171.0" stroke="#757575" stroke-width="0.9"/>
<rect x="808.93" y="156.0" width="2.0" height="9.0" fill="#fd4a4c" fill-opacity="0.95"/>
<line x1="812.01" y1="156.0" x2="812.01" y2="166.5" stroke="#757575" stroke-width="0.9"/>
<rect x="811.01" y="161.2" width="2.0" height="3.7" fill="#27b876" fill-opacity="0.95"/>
<line x1="814.09" y1="159.7" x2="814.09" y2="180.7" stroke="#757575" stroke-width="0.9"/>
<rect x="813.09" y="162.0" width="2.0" height="18.0" fill="#fd4a4c" fill-opacity="0.95"/>
<line x1="816.18" y1="171.0" x2="816.18" y2="181.5" stroke="#757575" stroke-width="0.9"/>
<rect x="815.18" y="171.7" width="2.0" height="8.2" fill="#27b876" fill-opacity="0.95"/>
<line x1="818.26" y1="165.0" x2="818.26" y2="178.5" stroke="#757575" stroke-width="0.9"/>
<rect x="817.26" y="169.5" width="2.0" height="2.2" fill="#27b876" fill-opacity="0.95"/>
<line x1="820.35" y1="154.5" x2="820.35" y2="166.5" stroke="#757575" stroke-width="0.9"/>
<rect x="819.35" y="160.5" width="2.0" height="2.2" fill="#27b876" fill-opacity="0.95"/>
<line x1="822.43" y1="146.2" x2="822.43" y2="161.2" stroke="#757575" stroke-width="0.9"/>
<rect x="821.43" y="147.0" width="2.0" height="7.5" fill="#27b876" fill-opacity="0.95"/>
<line x1="824.51" y1="132.7" x2="824.51" y2="147.0" stroke="#757575" stroke-width="0.9"/>
<rect x="823.51" y="134.2" width="2.0" height="12.0" fill="#27b876" fill-opacity="0.95"/>
<line x1="826.60" y1="128.2" x2="826.60" y2="134.2" stroke="#757575" stroke-width="0.9"/>
<rect x="825.60" y="129.7" width="2.0" height="3.7" fill="#27b876" fill-opacity="0.95"/>
<line x1="828.68" y1="117.7" x2="828.68" y2="131.2" stroke="#757575" stroke-width="0.9"/>
<rect x="827.68" y="122.2" width="2.0" height="8.2" fill="#27b876" fill-opacity="0.95"/>
<line x1="830.76" y1="112.5" x2="830.76" y2="126.7" stroke="#757575" stroke-width="0.9"/>
<rect x="829.76" y="113.2" width="2.0" height="9.0" fill="#27b876" fill-opacity="0.95"/>
<line x1="832.85" y1="102.7" x2="832.85" y2="116.2" stroke="#757575" stroke-width="0.9"/>
<rect x="831.85" y="108.0" width="2.0" height="7.5" fill="#27b876" fill-opacity="0.95"/>
<line x1="834.93" y1="105.0" x2="834.93" y2="116.2" stroke="#757575" stroke-width="0.9"/>
<rect x="833.93" y="105.7" width="2.0" height="9.7" fill="#fd4a4c" fill-opacity="0.95"/>
<line x1="837.01" y1="108.7" x2="837.01" y2="122.2" stroke="#757575" stroke-width="0.9"/>
<rect x="836.01" y="115.5" width="2.0" height="3.7" fill="#fd4a4c" fill-opacity="0.95"/>
<line x1="839.10" y1="123.0" x2="839.10" y2="132.7" stroke="#757575" stroke-width="0.9"/>
<rect x="838.10" y="123.7" width="2.0" height="5.2" fill="#fd4a4c" fill-opacity="0.95"/>
<line x1="841.18" y1="117.7" x2="841.18" y2="126.7" stroke="#757575" stroke-width="0.9"/>
<rect x="840.18" y="118.5" width="2.0" height="5.2" fill="#27b876" fill-opacity="0.95"/>
<line x1="843.26" y1="107.2" x2="843.26" y2="118.5" stroke="#757575" stroke-width="0.9"/>
<rect x="842.26" y="107.2" width="2.0" height="7.5" fill="#27b876" fill-opacity="0.95"/>
<line x1="845.35" y1="102.7" x2="845.35" y2="117.7" stroke="#fd4a4c" stroke-width="0.95"/>
<line x1="847.43" y1="114.0" x2="847.43" y2="122.2" stroke="#757575" stroke-width="0.9"/>
<rect x="846.43" y="117.0" width="2.0" height="3.0" fill="#fd4a4c" fill-opacity="0.95"/>
<line x1="849.51" y1="117.7" x2="849.51" y2="132.0" stroke="#757575" stroke-width="0.9"/>
<rect x="848.51" y="121.5" width="2.0" height="6.7" fill="#fd4a4c" fill-opacity="0.95"/>
<line x1="851.60" y1="118.5" x2="851.60" y2="126.0" stroke="#757575" stroke-width="0.9"/>
<rect x="850.60" y="122.2" width="2.0" height="1.9" fill="#fd4a4c" fill-opacity="0.95"/>
<line x1="853.68" y1="120.7" x2="853.68" y2="133.5" stroke="#757575" stroke-width="0.9"/>
<rect x="852.68" y="123.0" width="2.0" height="4.5" fill="#fd4a4c" fill-opacity="0.95"/>
<line x1="855.76" y1="119.2" x2="855.76" y2="128.2" stroke="#757575" stroke-width="0.9"/>
<rect x="854.76" y="121.5" width="2.0" height="5.2" fill="#fd4a4c" fill-opacity="0.95"/>
<line x1="857.85" y1="122.2" x2="857.85" y2="133.5" stroke="#757575" stroke-width="0.9"/>
<rect x="856.85" y="122.2" width="2.0" height="7.5" fill="#27b876" fill-opacity="0.95"/>
<line x1="859.93" y1="116.2" x2="859.93" y2="123.7" stroke="#757575" stroke-width="0.9"/>
<rect x="858.93" y="119.2" width="2.0" height="3.0" fill="#fd4a4c" fill-opacity="0.95"/>
<line x1="862.01" y1="117.7" x2="862.01" y2="123.0" stroke="#757575" stroke-width="0.9"/>
<rect x="861.01" y="120.0" width="2.0" height="1.8" fill="#fd4a4c" fill-opacity="0.95"/>
<line x1="864.10" y1="121.5" x2="864.10" y2="133.5" stroke="#757575" stroke-width="0.9"/>
<rect x="863.10" y="122.2" width="2.0" height="10.5" fill="#fd4a4c" fill-opacity="0.95"/>
<line x1="866.18" y1="122.5" x2="866.18" y2="134.5" stroke="#757575" stroke-width="0.9"/>
<rect x="865.18" y="128.0" width="2.0" height="5.4" fill="#27b876" fill-opacity="0.95"/>
<line x1="868.27" y1="127.7" x2="868.27" y2="137.5" stroke="#757575" stroke-width="0.9"/>
<rect x="867.27" y="128.5" width="2.0" height="5.2" fill="#27b876" fill-opacity="0.95"/>
<line x1="870.35" y1="123.2" x2="870.35" y2="131.5" stroke="#757575" stroke-width="0.9"/>
<rect x="869.35" y="124.7" width="2.0" height="5.2" fill="#fd4a4c" fill-opacity="0.95"/>
<line x1="872.43" y1="120.2" x2="872.43" y2="134.5" stroke="#757575" stroke-width="0.9"/>
<rect x="871.43" y="127.0" width="2.0" height="1.8" fill="#27b876" fill-opacity="0.95"/>
<line x1="874.52" y1="122.5" x2="874.52" y2="133.0" stroke="#757575" stroke-width="0.9"/>
<rect x="873.52" y="125.5" width="2.0" height="1.8" fill="#27b876" fill-opacity="0.95"/>
<line x1="876.60" y1="114.2" x2="876.60" y2="133.0" stroke="#757575" stroke-width="0.9"/>
<rect x="875.60" y="116.5" width="2.0" height="15.7" fill="#27b876" fill-opacity="0.95"/>
<line x1="878.68" y1="117.2" x2="878.68" y2="131.5" stroke="#757575" stroke-width="0.9"/>
<rect x="877.68" y="118.0" width="2.0" height="6.0" fill="#fd4a4c" fill-opacity="0.95"/>
<line x1="880.77" y1="121.7" x2="880.77" y2="133.0" stroke="#757575" stroke-width="0.9"/>
<rect x="879.77" y="124.0" width="2.0" height="7.5" fill="#fd4a4c" fill-opacity="0.95"/>
<line x1="882.85" y1="119.5" x2="882.85" y2="133.0" stroke="#757575" stroke-width="0.9"/>
<rect x="881.85" y="120.2" width="2.0" height="6.0" fill="#27b876" fill-opacity="0.95"/>
<line x1="884.93" y1="121.0" x2="884.93" y2="131.5" stroke="#757575" stroke-width="0.9"/>
<rect x="883.93" y="124.3" width="2.0" height="3.4" fill="#fd4a4c" fill-opacity="0.95"/>
<line x1="887.02" y1="106.7" x2="887.02" y2="118.0" stroke="#757575" stroke-width="0.9"/>
<rect x="886.02" y="107.2" width="2.0" height="4.8" fill="#fd4a4c" fill-opacity="0.95"/>
<line x1="889.10" y1="98.5" x2="889.10" y2="115.0" stroke="#757575" stroke-width="0.9"/>
<rect x="888.10" y="105.2" width="2.0" height="7.5" fill="#fd4a4c" fill-opacity="0.95"/>
<line x1="891.18" y1="103.7" x2="891.18" y2="124.7" stroke="#757575" stroke-width="0.9"/>
<rect x="890.18" y="106.0" width="2.0" height="18.0" fill="#fd4a4c" fill-opacity="0.95"/>
<line x1="893.27" y1="122.5" x2="893.27" y2="131.5" stroke="#757575" stroke-width="0.9"/>
<rect x="892.27" y="124.0" width="2.0" height="3.7" fill="#27b876" fill-opacity="0.95"/>
<line x1="895.35" y1="118.7" x2="895.35" y2="133.7" stroke="#757575" stroke-width="0.9"/>
<rect x="894.35" y="119.2" width="2.0" height="13.8" fill="#fd4a4c" fill-opacity="0.95"/>
<line x1="897.43" y1="134.5" x2="897.43" y2="148.0" stroke="#757575" stroke-width="0.9"/>
<rect x="896.43" y="137.5" width="2.0" height="9.0" fill="#fd4a4c" fill-opacity="0.95"/>
<line x1="899.52" y1="142.7" x2="899.52" y2="158.5" stroke="#757575" stroke-width="0.9"/>
<rect x="898.52" y="146.5" width="2.0" height="2.2" fill="#fd4a4c" fill-opacity="0.95"/>
<line x1="901.60" y1="140.5" x2="901.60" y2="150.2" stroke="#757575" stroke-width="0.9"/>
<rect x="900.60" y="142.7" width="2.0" height="6.7" fill="#27b876" fill-opacity="0.95"/>
<line x1="903.68" y1="141.2" x2="903.68" y2="154.0" stroke="#757575" stroke-width="0.9"/>
<rect x="902.68" y="142.0" width="2.0" height="7.5" fill="#fd4a4c" fill-opacity="0.95"/>
<line x1="905.77" y1="140.5" x2="905.77" y2="154.0" stroke="#757575" stroke-width="0.9"/>
<rect x="904.77" y="146.5" width="2.0" height="6.7" fill="#27b876" fill-opacity="0.95"/>
<line x1="907.85" y1="138.2" x2="907.85" y2="148.0" stroke="#757575" stroke-width="0.9"/>
<rect x="906.85" y="141.2" width="2.0" height="3.7" fill="#27b876" fill-opacity="0.95"/>
<line x1="909.94" y1="138.2" x2="909.94" y2="148.7" stroke="#757575" stroke-width="0.9"/>
<rect x="908.94" y="140.8" width="2.0" height="7.2" fill="#fd4a4c" fill-opacity="0.95"/>
<line x1="912.02" y1="142.7" x2="912.02" y2="148.0" stroke="#757575" stroke-width="0.9"/>
<rect x="911.02" y="144.2" width="2.0" height="1.9" fill="#27b876" fill-opacity="0.95"/>
<line x1="914.10" y1="142.0" x2="914.10" y2="155.5" stroke="#757575" stroke-width="0.9"/>
<rect x="913.10" y="145.0" width="2.0" height="1.8" fill="#fd4a4c" fill-opacity="0.95"/>
<line x1="916.19" y1="138.2" x2="916.19" y2="147.2" stroke="#757575" stroke-width="0.9"/>
<rect x="915.19" y="139.0" width="2.0" height="7.5" fill="#27b876" fill-opacity="0.95"/>
<line x1="918.27" y1="135.2" x2="918.27" y2="141.2" stroke="#757575" stroke-width="0.9"/>
<rect x="917.27" y="136.7" width="2.0" height="1.9" fill="#27b876" fill-opacity="0.95"/>
<line x1="920.35" y1="122.5" x2="920.35" y2="135.2" stroke="#757575" stroke-width="0.9"/>
<rect x="919.35" y="124.0" width="2.0" height="10.5" fill="#27b876" fill-opacity="0.95"/>
<line x1="922.44" y1="121.0" x2="922.44" y2="147.2" stroke="#fd4a4c" stroke-width="0.95"/>
<line x1="924.52" y1="142.7" x2="924.52" y2="151.7" stroke="#757575" stroke-width="0.9"/>
<rect x="923.52" y="145.0" width="2.0" height="1.8" fill="#27b876" fill-opacity="0.95"/>
<line x1="926.60" y1="142.0" x2="926.60" y2="155.5" stroke="#757575" stroke-width="0.9"/>
<rect x="925.60" y="142.7" width="2.0" height="3.0" fill="#fd4a4c" fill-opacity="0.95"/>
<line x1="928.69" y1="136.7" x2="928.69" y2="150.2" stroke="#757575" stroke-width="0.9"/>
<rect x="927.69" y="142.7" width="2.0" height="6.7" fill="#fd4a4c" fill-opacity="0.95"/>
<line x1="930.77" y1="144.2" x2="930.77" y2="151.0" stroke="#757575" stroke-width="0.9"/>
<rect x="929.77" y="146.5" width="2.0" height="1.8" fill="#27b876" fill-opacity="0.95"/>
<line x1="932.85" y1="142.0" x2="932.85" y2="158.5" stroke="#757575" stroke-width="0.9"/>
<rect x="931.85" y="144.2" width="2.0" height="9.0" fill="#fd4a4c" fill-opacity="0.95"/>
<line x1="934.94" y1="144.2" x2="934.94" y2="156.2" stroke="#757575" stroke-width="0.9"/>
<rect x="933.94" y="145.0" width="2.0" height="7.5" fill="#27b876" fill-opacity="0.95"/>
<line x1="937.02" y1="145.0" x2="937.02" y2="157.0" stroke="#757575" stroke-width="0.9"/>
<rect x="936.02" y="146.5" width="2.0" height="4.5" fill="#27b876" fill-opacity="0.95"/>
<line x1="939.10" y1="140.5" x2="939.10" y2="146.5" stroke="#757575" stroke-width="0.9"/>
<rect x="938.10" y="142.0" width="2.0" height="3.7" fill="#27b876" fill-opacity="0.95"/>
<line x1="941.19" y1="135.2" x2="941.19" y2="142.7" stroke="#757575" stroke-width="0.9"/>
<rect x="940.19" y="136.7" width="2.0" height="5.2" fill="#27b876" fill-opacity="0.95"/>
<line x1="943.27" y1="134.5" x2="943.27" y2="142.7" stroke="#757575" stroke-width="0.9"/>
<rect x="942.27" y="136.7" width="2.0" height="5.2" fill="#fd4a4c" fill-opacity="0.95"/>
<line x1="945.36" y1="138.2" x2="945.36" y2="143.5" stroke="#757575" stroke-width="0.9"/>
<rect x="944.36" y="140.5" width="2.0" height="2.2" fill="#27b876" fill-opacity="0.95"/>
<line x1="947.44" y1="134.5" x2="947.44" y2="150.2" stroke="#fd4a4c" stroke-width="0.95"/>
<line x1="949.52" y1="137.5" x2="949.52" y2="149.5" stroke="#757575" stroke-width="0.9"/>
<rect x="948.52" y="141.2" width="2.0" height="1.8" fill="#27b876" fill-opacity="0.95"/>
<line x1="951.61" y1="134.5" x2="951.61" y2="146.5" stroke="#757575" stroke-width="0.9"/>
<rect x="950.61" y="139.7" width="2.0" height="4.5" fill="#fd4a4c" fill-opacity="0.95"/>
<line x1="953.69" y1="137.5" x2="953.69" y2="144.2" stroke="#757575" stroke-width="0.9"/>
<rect x="952.69" y="139.7" width="2.0" height="1.8" fill="#27b876" fill-opacity="0.95"/>
<line x1="955.77" y1="128.5" x2="955.77" y2="137.5" stroke="#757575" stroke-width="0.9"/>
<rect x="954.77" y="129.2" width="2.0" height="7.5" fill="#27b876" fill-opacity="0.95"/>
<line x1="957.86" y1="118.7" x2="957.86" y2="130.0" stroke="#757575" stroke-width="0.9"/>
<rect x="956.86" y="126.2" width="2.0" height="3.0" fill="#27b876" fill-opacity="0.95"/>
<line x1="959.94" y1="126.2" x2="959.94" y2="131.5" stroke="#757575" stroke-width="0.9"/>
<rect x="958.94" y="127.0" width="2.0" height="3.7" fill="#fd4a4c" fill-opacity="0.95"/>
<line x1="962.02" y1="115.7" x2="962.02" y2="127.7" stroke="#757575" stroke-width="0.9"/>
<rect x="961.02" y="117.2" width="2.0" height="9.7" fill="#27b876" fill-opacity="0.95"/>
<line x1="964.11" y1="114.2" x2="964.11" y2="120.2" stroke="#757575" stroke-width="0.9"/>
<rect x="963.11" y="115.7" width="2.0" height="3.0" fill="#27b876" fill-opacity="0.95"/>
<line x1="966.19" y1="109.7" x2="966.19" y2="119.5" stroke="#757575" stroke-width="0.9"/>
<rect x="965.19" y="115.0" width="2.0" height="1.8" fill="#fd4a4c" fill-opacity="0.95"/>
<line x1="968.27" y1="120.2" x2="968.27" y2="128.5" stroke="#757575" stroke-width="0.9"/>
<rect x="967.27" y="124.0" width="2.0" height="2.2" fill="#27b876" fill-opacity="0.95"/>
<line x1="970.36" y1="124.0" x2="970.36" y2="134.5" stroke="#757575" stroke-width="0.9"/>
<rect x="969.36" y="126.2" width="2.0" height="7.5" fill="#fd4a4c" fill-opacity="0.95"/>
<line x1="972.44" y1="115.7" x2="972.44" y2="133.0" stroke="#757575" stroke-width="0.9"/>
<rect x="971.44" y="122.5" width="2.0" height="1.8" fill="#27b876" fill-opacity="0.95"/>
<line x1="974.52" y1="116.5" x2="974.52" y2="131.5" stroke="#757575" stroke-width="0.9"/>
<rect x="973.52" y="121.0" width="2.0" height="3.0" fill="#fd4a4c" fill-opacity="0.95"/>
<line x1="976.61" y1="122.5" x2="976.61" y2="130.0" stroke="#757575" stroke-width="0.9"/>
<rect x="975.61" y="124.7" width="2.0" height="3.7" fill="#fd4a4c" fill-opacity="0.95"/>
<line x1="978.69" y1="128.5" x2="978.69" y2="142.0" stroke="#757575" stroke-width="0.9"/>
<rect x="977.69" y="129.2" width="2.0" height="12.0" fill="#fd4a4c" fill-opacity="0.95"/>
<line x1="980.77" y1="142.0" x2="980.77" y2="160.7" stroke="#757575" stroke-width="0.9"/>
<rect x="979.77" y="142.7" width="2.0" height="17.2" fill="#fd4a4c" fill-opacity="0.95"/>
<line x1="982.86" y1="155.5" x2="982.86" y2="166.0" stroke="#757575" stroke-width="0.9"/>
<rect x="981.86" y="155.5" width="2.0" height="2.2" fill="#27b876" fill-opacity="0.95"/>
<line x1="984.94" y1="139.7" x2="984.94" y2="156.2" stroke="#757575" stroke-width="0.9"/>
<rect x="983.94" y="140.5" width="2.0" height="15.0" fill="#27b876" fill-opacity="0.95"/>
<line x1="987.03" y1="135.2" x2="987.03" y2="146.5" stroke="#757575" stroke-width="0.9"/>
<rect x="986.03" y="136.0" width="2.0" height="8.2" fill="#27b876" fill-opacity="0.95"/>
<line x1="989.11" y1="136.0" x2="989.11" y2="142.0" stroke="#757575" stroke-width="0.9"/>
<rect x="988.11" y="138.2" width="2.0" height="2.2" fill="#fd4a4c" fill-opacity="0.95"/>
<line x1="991.19" y1="138.2" x2="991.19" y2="145.7" stroke="#757575" stroke-width="0.9"/>
<rect x="990.19" y="139.0" width="2.0" height="6.0" fill="#fd4a4c" fill-opacity="0.95"/>
<line x1="993.28" y1="139.0" x2="993.28" y2="145.7" stroke="#757575" stroke-width="0.9"/>
<rect x="992.28" y="141.2" width="2.0" height="1.8" fill="#27b876" fill-opacity="0.95"/>
<line x1="995.36" y1="139.7" x2="995.36" y2="145.0" stroke="#757575" stroke-width="0.9"/>
<rect x="994.36" y="140.5" width="2.0" height="3.7" fill="#fd4a4c" fill-opacity="0.95"/>
<line x1="997.44" y1="139.0" x2="997.44" y2="144.2" stroke="#757575" stroke-width="0.9"/>
<rect x="996.44" y="140.8" width="2.0" height="1.5" fill="#27b876" fill-opacity="0.95"/>
<line x1="999.53" y1="138.2" x2="999.53" y2="144.2" stroke="#757575" stroke-width="0.9"/>
<rect x="998.53" y="140.5" width="2.0" height="1.5" fill="#fd4a4c" fill-opacity="0.95"/>
<line x1="1001.61" y1="139.0" x2="1001.61" y2="154.0" stroke="#757575" stroke-width="0.9"/>
<rect x="1000.61" y="139.7" width="2.0" height="13.5" fill="#fd4a4c" fill-opacity="0.95"/>
<line x1="1003.69" y1="147.2" x2="1003.69" y2="155.5" stroke="#757575" stroke-width="0.9"/>
<rect x="1002.69" y="151.7" width="2.0" height="3.0" fill="#27b876" fill-opacity="0.95"/>
<line x1="1005.78" y1="151.7" x2="1005.78" y2="163.7" stroke="#757575" stroke-width="0.9"/>
<rect x="1004.78" y="152.5" width="2.0" height="10.5" fill="#fd4a4c" fill-opacity="0.95"/>
<line x1="1007.86" y1="163.0" x2="1007.86" y2="172.0" stroke="#757575" stroke-width="0.9"/>
<rect x="1006.86" y="163.7" width="2.0" height="1.8" fill="#fd4a4c" fill-opacity="0.95"/>
<line x1="1009.94" y1="151.7" x2="1009.94" y2="166.7" stroke="#757575" stroke-width="0.9"/>
<rect x="1008.94" y="151.7" width="2.0" height="14.2" fill="#27b876" fill-opacity="0.95"/>
<line x1="1012.03" y1="134.5" x2="1012.03" y2="148.0" stroke="#757575" stroke-width="0.9"/>
<rect x="1011.03" y="139.0" width="2.0" height="8.2" fill="#fd4a4c" fill-opacity="0.95"/>
<line x1="1014.11" y1="139.7" x2="1014.11" y2="147.2" stroke="#757575" stroke-width="0.9"/>
<rect x="1013.11" y="143.5" width="2.0" height="3.0" fill="#fd4a4c" fill-opacity="0.95"/>
<line x1="1016.19" y1="136.0" x2="1016.19" y2="150.2" stroke="#757575" stroke-width="0.9"/>
<rect x="1015.19" y="141.2" width="2.0" height="4.5" fill="#27b876" fill-opacity="0.95"/>
<line x1="1018.28" y1="131.5" x2="1018.28" y2="139.0" stroke="#757575" stroke-width="0.9"/>
<rect x="1017.28" y="133.0" width="2.0" height="3.0" fill="#27b876" fill-opacity="0.95"/>
<line x1="1020.36" y1="130.7" x2="1020.36" y2="139.7" stroke="#757575" stroke-width="0.9"/>
<rect x="1019.36" y="132.2" width="2.0" height="2.2" fill="#fd4a4c" fill-opacity="0.95"/>
<line x1="1022.44" y1="121.0" x2="1022.44" y2="137.5" stroke="#757575" stroke-width="0.9"/>
<rect x="1021.44" y="122.5" width="2.0" height="14.2" fill="#27b876" fill-opacity="0.95"/>
<line x1="1024.53" y1="114.2" x2="1024.53" y2="136.0" stroke="#fd4a4c" stroke-width="0.95"/>
<line x1="1026.61" y1="136.0" x2="1026.61" y2="145.7" stroke="#757575" stroke-width="0.9"/>
<rect x="1025.61" y="136.0" width="2.0" height="2.2" fill="#27b876" fill-opacity="0.95"/>
<line x1="1028.69" y1="125.5" x2="1028.69" y2="137.5" stroke="#757575" stroke-width="0.9"/>
<rect x="1027.69" y="127.0" width="2.0" height="7.5" fill="#27b876" fill-opacity="0.95"/>
<line x1="1030.78" y1="128.5" x2="1030.78" y2="136.7" stroke="#757575" stroke-width="0.9"/>
<rect x="1029.78" y="130.0" width="2.0" height="3.0" fill="#27b876" fill-opacity="0.95"/>
<line x1="1032.86" y1="124.0" x2="1032.86" y2="130.0" stroke="#757575" stroke-width="0.9"/>
<rect x="1031.86" y="124.7" width="2.0" height="4.5" fill="#27b876" fill-opacity="0.95"/>
<line x1="1034.95" y1="115.7" x2="1034.95" y2="125.5" stroke="#757575" stroke-width="0.9"/>
<rect x="1033.95" y="115.7" width="2.0" height="6.0" fill="#27b876" fill-opacity="0.95"/>
<line x1="1037.03" y1="104.5" x2="1037.03" y2="119.5" stroke="#757575" stroke-width="0.9"/>
<rect x="1036.03" y="105.2" width="2.0" height="12.0" fill="#27b876" fill-opacity="0.95"/>
<line x1="1039.11" y1="94.7" x2="1039.11" y2="101.8" stroke="#757575" stroke-width="0.9"/>
<rect x="1038.11" y="94.7" width="2.0" height="6.7" fill="#27b876" fill-opacity="0.95"/>
</g>
<g fill="none" stroke-linejoin="round" stroke-linecap="butt">
<path d="M296.8 315.1C297.4 314.2 299.0 311.4 300.4 310.0C301.8 308.6 303.0 307.9 305.0 306.7C307.0 305.5 309.9 304.0 312.3 303.0C314.8 302.0 317.2 301.5 319.7 300.5C322.1 299.5 324.9 297.1 327.0 296.8C329.1 296.5 330.7 297.7 332.5 298.5C334.3 299.3 335.9 300.1 338.0 301.8C340.1 303.4 343.2 307.0 345.3 308.2C347.4 309.4 348.3 308.9 350.5 309.2C352.7 309.5 356.3 309.3 358.8 310.1C361.2 310.8 362.9 312.1 365.2 313.8C367.5 315.4 370.5 318.6 372.5 319.8C374.5 321.0 375.2 321.4 377.1 321.1C378.9 320.8 381.2 319.0 383.5 318.0C385.8 317.0 388.4 315.9 390.8 315.0C393.3 314.2 395.7 314.7 398.2 312.8C400.6 310.9 403.4 306.1 405.5 303.7C407.6 301.2 409.2 299.5 411.0 298.2C412.8 296.8 414.1 296.2 416.5 295.4C418.9 294.7 422.9 294.5 425.7 293.6C428.4 292.7 430.7 290.9 433.0 289.9C435.3 288.9 437.3 287.9 439.4 287.5C441.6 287.1 444.1 287.6 445.8 287.5C447.6 287.5 449.1 287.3 450.0 287.1C450.9 286.9 450.1 287.6 451.3 286.2C452.6 284.9 455.1 281.3 457.3 278.8C459.6 276.4 462.2 274.6 464.7 271.5C467.1 268.4 469.2 264.0 472.0 260.5C474.8 257.0 478.1 253.3 481.2 250.4C484.2 247.5 487.6 245.1 490.3 243.1C493.1 241.0 495.8 239.3 497.7 238.1C499.5 237.0 500.1 236.4 501.3 236.3C502.6 236.2 503.5 236.6 505.0 237.6C506.5 238.6 508.7 240.9 510.5 242.2C512.3 243.4 514.2 244.5 516.0 244.9C517.8 245.4 519.4 245.4 521.5 244.9C523.6 244.5 526.4 242.6 528.8 242.2C531.3 241.7 533.4 242.5 536.2 242.2C538.9 241.9 542.9 240.9 545.3 240.3C547.8 239.8 549.2 238.9 550.8 238.9C552.5 238.8 553.8 239.3 555.4 240.0C557.0 240.6 558.7 241.1 560.5 242.7C562.3 244.2 564.2 247.2 566.0 249.1C567.8 250.9 569.4 252.5 571.5 253.7C573.6 254.8 576.4 255.7 578.8 255.9C581.3 256.0 583.7 255.3 586.2 254.6C588.6 253.9 591.1 253.2 593.5 251.8C595.9 250.5 598.4 247.7 600.8 246.3C603.3 245.0 605.7 243.7 608.2 243.6C610.6 243.4 613.1 244.2 615.5 245.4C617.9 246.6 620.4 248.8 622.8 250.9C625.3 253.1 627.7 256.0 630.2 258.2C632.6 260.5 635.1 262.9 637.5 264.7C639.9 266.4 642.8 268.1 644.8 268.9C646.8 269.6 647.6 269.6 649.4 269.2C651.2 268.9 653.8 267.4 655.8 266.5C657.8 265.6 659.7 264.7 661.3 263.8C662.9 262.8 663.6 262.4 665.5 261.1C667.4 259.8 670.4 257.8 672.8 256.1C675.3 254.5 677.9 252.6 680.2 251.0C682.5 249.4 684.9 247.4 686.6 246.4C688.3 245.4 688.6 245.3 690.2 244.9C691.9 244.6 694.4 244.8 696.7 244.6C699.0 244.4 701.6 244.1 704.0 243.7C706.4 243.3 709.0 242.5 711.3 242.2C713.6 241.9 716.1 241.5 717.8 241.8C719.4 242.1 720.2 243.5 721.4 244.0C722.6 244.6 723.4 245.1 725.1 245.1C726.8 245.1 729.2 244.6 731.5 244.0C733.8 243.4 736.4 242.4 738.8 241.5C741.3 240.5 743.7 239.2 746.2 238.2C748.6 237.2 751.4 236.6 753.5 235.4C755.6 234.2 757.5 233.0 759.0 230.8C760.5 228.7 761.7 224.6 762.8 222.3C763.8 220.1 764.1 218.1 765.5 217.4C766.9 216.7 769.2 218.5 771.0 218.3C772.8 218.1 775.0 216.9 776.5 215.9C778.0 214.9 778.6 214.1 780.2 212.2C781.7 210.4 783.8 207.2 785.7 204.9C787.5 202.6 789.3 200.6 791.2 198.5C793.0 196.4 794.8 194.1 796.7 192.1C798.5 190.0 800.5 187.6 802.2 186.2C803.8 184.9 805.4 185.7 806.8 184.1C808.1 182.5 809.0 179.0 810.4 176.8C811.8 174.5 813.3 172.3 815.0 170.3C816.7 168.3 818.7 166.7 820.5 164.8C822.3 163.0 824.2 161.5 826.0 159.3C827.8 157.2 829.7 154.3 831.5 152.0C833.3 149.7 835.6 146.9 837.0 145.6C838.4 144.2 838.7 144.9 840.0 144.0C841.3 143.1 843.3 141.3 845.0 140.0C846.7 138.7 848.3 137.3 850.0 136.0C851.7 134.7 853.7 133.3 855.0 132.0C856.3 130.7 857.0 129.3 858.0 128.0C859.0 126.7 860.0 125.0 861.0 124.0C862.0 123.0 862.8 122.3 864.0 121.8C865.2 121.3 866.7 121.1 868.0 121.0C869.3 120.9 870.7 121.0 872.0 121.2C873.3 121.5 874.7 122.1 876.0 122.5C877.3 122.9 878.5 123.5 880.0 123.8C881.5 124.0 883.3 124.0 885.0 124.0C886.7 124.0 888.5 123.9 890.0 124.0C891.5 124.1 892.7 124.2 894.0 124.5C895.3 124.8 897.0 125.6 898.0 126.0C899.0 126.4 899.4 126.6 900.0 127.0C900.6 127.4 900.2 127.4 901.7 128.2C903.2 128.9 906.6 130.4 909.0 131.5C911.4 132.5 913.9 133.5 916.3 134.6C918.8 135.7 921.2 137.0 923.7 138.2C926.1 139.5 929.0 140.9 931.0 141.9C933.0 142.9 933.8 144.0 935.6 144.3C937.4 144.6 939.7 143.9 942.0 143.8C944.3 143.6 946.9 143.6 949.3 143.2C951.8 142.8 954.5 141.9 956.7 141.4C958.8 140.8 959.9 141.1 962.2 140.1C964.5 139.0 968.2 136.3 970.5 135.0C972.8 133.7 974.2 132.6 976.0 132.2C977.8 131.9 979.7 132.9 981.5 133.2C983.3 133.4 985.2 133.7 987.0 133.7C988.8 133.7 990.7 133.1 992.5 133.2C994.3 133.2 996.2 133.4 998.0 134.1C999.8 134.8 1001.7 135.8 1003.5 137.2C1005.3 138.6 1007.3 140.9 1009.0 142.3C1010.7 143.7 1012.2 145.0 1013.6 145.6C1015.0 146.3 1015.9 146.6 1017.2 146.4C1018.6 146.2 1020.2 145.2 1021.8 144.5C1023.5 143.9 1025.5 143.1 1027.3 142.3C1029.2 141.6 1031.3 140.9 1032.8 140.1C1034.4 139.4 1035.4 138.6 1036.5 137.8C1037.6 136.9 1038.8 135.5 1039.2 135.0" stroke="#0000ff" stroke-width="1.85"/>
<path d="M358.8 310.4C361.0 310.3 367.8 310.1 372.5 309.7C377.2 309.3 382.0 308.2 387.2 307.9C392.4 307.6 398.5 308.2 403.7 307.9C408.9 307.5 413.8 306.6 418.3 305.9C422.9 305.2 426.9 304.4 431.2 303.7C435.4 302.9 440.9 302.2 444.0 301.5C447.1 300.8 447.8 300.6 450.0 299.6C452.2 298.5 454.9 296.8 457.3 295.3C459.8 293.9 462.2 292.7 464.7 290.8C467.1 288.8 469.2 286.0 472.0 283.4C474.8 280.8 478.1 277.5 481.2 275.2C484.2 272.9 487.3 271.6 490.3 269.7C493.4 267.8 496.4 265.0 499.5 263.8C502.6 262.6 505.6 263.1 508.7 262.3C511.7 261.5 514.8 260.6 517.8 259.0C520.9 257.5 524.2 254.9 527.0 253.2C529.8 251.4 531.9 249.9 534.3 248.6C536.8 247.3 539.2 246.4 541.7 245.5C544.1 244.6 546.9 243.6 549.0 243.1C551.1 242.6 552.0 242.4 554.5 242.5C557.0 242.7 561.0 243.7 564.2 244.1C567.3 244.6 570.3 245.0 573.3 245.4C576.4 245.8 579.4 246.5 582.5 246.7C585.6 246.9 588.6 246.8 591.7 246.7C594.7 246.6 597.8 246.2 600.8 246.3C603.9 246.4 606.9 246.9 610.0 247.2C613.1 247.6 616.1 247.5 619.2 248.2C622.2 248.9 625.3 250.4 628.3 251.5C631.4 252.5 634.4 253.7 637.5 254.6C640.6 255.5 643.6 256.4 646.7 257.0C649.7 257.6 653.6 258.1 655.8 258.2C658.1 258.4 658.1 258.4 660.0 258.0C661.9 257.5 664.9 256.3 667.3 255.6C669.8 254.9 672.2 254.2 674.7 253.8C677.1 253.3 679.6 252.7 682.0 252.8C684.4 252.9 686.9 253.8 689.3 254.3C691.8 254.8 694.2 255.3 696.7 255.6C699.1 255.9 701.6 256.3 704.0 255.9C706.4 255.6 708.9 254.4 711.3 253.8C713.8 253.1 716.2 252.5 718.7 251.9C721.1 251.3 723.6 250.8 726.0 250.1C728.4 249.4 730.9 248.7 733.3 247.9C735.8 247.1 738.2 246.1 740.7 245.1C743.1 244.1 745.6 243.0 748.0 241.8C750.4 240.7 752.9 239.5 755.3 238.2C757.8 236.9 760.7 235.1 762.7 234.1C764.7 233.2 765.9 232.6 767.2 232.3C768.6 232.0 769.2 232.1 771.0 232.1C772.8 232.0 776.2 232.3 778.3 231.9C780.5 231.4 781.7 230.7 783.8 229.3C786.0 227.9 788.7 225.4 791.2 223.2C793.6 221.1 796.1 218.7 798.5 216.5C800.9 214.3 803.4 212.1 805.8 210.1C808.3 208.0 810.7 205.6 813.2 204.0C815.6 202.4 818.4 202.1 820.5 200.7C822.6 199.3 823.9 197.9 826.0 195.8C828.1 193.6 831.0 190.5 833.3 187.5C835.7 184.5 838.1 180.6 840.0 178.0C841.9 175.4 843.3 174.0 845.0 172.0C846.7 170.0 848.3 167.8 850.0 166.0C851.7 164.2 853.3 162.9 855.0 161.5C856.7 160.1 858.3 158.7 860.0 157.5C861.7 156.3 863.3 155.5 865.0 154.5C866.7 153.5 868.5 152.4 870.0 151.5C871.5 150.6 872.7 150.2 874.0 149.0C875.3 147.8 876.7 145.4 878.0 144.0C879.3 142.6 880.5 141.7 882.0 140.5C883.5 139.3 885.3 137.9 887.0 137.0C888.7 136.1 890.5 135.3 892.0 134.8C893.5 134.3 894.7 134.3 896.0 134.0C897.3 133.7 899.1 133.3 900.0 133.2C900.9 133.1 900.2 133.1 901.7 133.1C903.2 133.1 906.6 133.4 909.0 133.1C911.4 132.8 913.9 132.1 916.3 131.5C918.8 130.8 921.5 129.7 923.7 129.3C925.8 128.9 927.3 129.0 929.2 129.1C931.0 129.2 932.5 129.5 934.7 130.0C936.8 130.5 939.6 131.3 942.0 131.8C944.4 132.4 946.9 132.8 949.3 133.3C951.8 133.8 954.2 134.3 956.7 134.6C959.1 134.9 961.1 135.0 964.0 134.9C966.9 134.9 970.9 134.3 974.2 134.4C977.4 134.6 980.3 135.4 983.3 135.9C986.4 136.4 989.4 136.9 992.5 137.4C995.6 137.8 998.6 138.3 1001.7 138.7C1004.7 139.0 1007.8 139.4 1010.8 139.6C1013.9 139.7 1016.9 139.7 1020.0 139.6C1023.1 139.4 1026.7 139.1 1029.2 138.7C1031.6 138.3 1033.0 137.8 1034.7 137.2C1036.3 136.6 1038.5 135.7 1039.2 135.4" stroke="#ffa500" stroke-width="1.85"/>
<path d="M671.4 275.2C674.1 274.6 681.8 272.7 687.5 271.5C693.2 270.4 699.7 269.4 705.8 268.4C711.9 267.4 718.1 266.6 724.2 265.7C730.3 264.8 737.3 263.8 742.5 262.9C747.7 262.1 752.4 261.0 755.3 260.5C758.2 260.0 756.2 260.9 760.0 259.9C763.8 258.9 772.2 256.4 778.3 254.4C784.4 252.4 790.6 250.1 796.7 248.0C802.8 245.9 808.9 243.9 815.0 241.9C821.1 240.0 827.2 238.2 833.3 236.1C839.4 234.0 845.6 231.5 851.7 229.3C857.8 227.1 864.9 224.6 870.0 222.7C875.1 220.8 875.5 219.7 882.5 217.6C889.5 215.5 901.0 212.7 911.7 210.1C922.4 207.5 937.0 204.2 946.7 201.8C956.4 199.4 963.2 197.2 970.0 195.4C976.8 193.6 981.7 192.3 987.5 190.8C993.3 189.3 999.6 187.7 1005.0 186.4C1010.4 185.1 1015.7 184.1 1020.0 183.0C1024.3 181.9 1027.8 180.7 1031.0 179.6C1034.2 178.5 1037.8 176.9 1039.2 176.3" stroke="#008000" stroke-width="1.85"/>
<path d="M297.3 273.3C298.6 272.4 302.5 268.4 305.0 267.8C307.5 267.2 309.2 268.8 312.3 270.0C315.4 271.2 320.2 273.7 323.3 274.8C326.4 275.9 328.6 275.6 330.7 276.6C332.8 277.6 334.4 279.5 336.2 280.7C338.0 281.9 340.2 283.4 341.7 284.0C343.2 284.6 343.2 284.0 345.0 284.4C346.8 284.8 349.3 285.9 352.3 286.2C355.4 286.6 360.3 285.1 363.3 286.8C366.4 288.5 368.4 293.3 370.7 296.3C373.0 299.4 375.2 304.7 377.1 305.1C378.9 305.6 379.7 301.0 381.7 299.1C383.7 297.2 386.6 295.4 389.0 293.6C391.4 291.8 394.2 290.8 396.3 288.1C398.5 285.3 400.2 280.3 401.8 277.1C403.5 273.9 404.6 270.5 406.4 268.8C408.2 267.2 410.5 266.7 412.8 267.0C415.1 267.3 417.4 270.3 420.2 270.7C422.9 271.0 426.6 269.8 429.3 269.2C432.1 268.6 433.9 267.8 436.7 267.4C439.4 266.9 443.6 267.8 445.8 266.6C448.1 265.5 448.1 262.6 450.0 260.5C451.9 258.4 454.9 257.6 457.3 254.1C459.8 250.6 462.5 244.0 464.7 239.4C466.8 234.8 468.3 230.6 470.2 226.6C472.0 222.6 474.0 217.9 475.7 215.6C477.3 213.2 478.4 212.5 480.2 212.5C482.1 212.5 484.4 214.6 486.7 215.6C489.0 216.6 491.7 217.4 494.0 218.3C496.3 219.2 498.6 221.4 500.4 221.1C502.2 220.8 503.5 217.8 505.0 216.5C506.5 215.2 508.1 213.7 509.6 213.4C511.1 213.1 512.5 213.8 514.2 214.7C515.8 215.5 518.1 218.2 519.7 218.3C521.2 218.5 522.1 216.9 523.3 215.6C524.6 214.3 525.5 211.7 527.0 210.6C528.5 209.6 530.1 209.4 532.5 209.2C534.9 208.9 539.2 208.8 541.7 209.2C544.1 209.5 545.5 210.6 547.2 211.4C548.8 212.1 550.4 214.0 551.8 213.8C553.1 213.5 554.2 210.4 555.0 209.7C555.8 208.9 555.7 209.5 556.3 209.2C556.9 208.8 557.5 207.8 558.7 207.5C559.8 207.2 561.9 206.5 563.2 207.5C564.6 208.4 565.5 211.0 566.9 213.3C568.3 215.7 570.0 219.6 571.5 221.6C573.0 223.6 574.6 224.6 576.1 225.2C577.6 225.9 579.0 226.0 580.7 225.2C582.3 224.5 584.3 222.3 586.2 220.7C588.0 219.0 589.8 216.6 591.7 215.2C593.5 213.7 595.3 212.2 597.2 212.1C599.0 211.9 600.8 213.4 602.7 214.2C604.5 215.1 606.3 217.0 608.2 217.0C610.0 217.0 611.8 215.1 613.7 214.2C615.5 213.4 617.5 211.9 619.2 212.1C620.8 212.2 622.2 213.3 623.8 215.2C625.3 217.1 626.7 220.1 628.3 223.4C630.0 226.8 632.2 231.7 633.8 235.3C635.5 239.0 636.9 242.4 638.4 245.4C639.9 248.5 641.6 251.8 643.0 253.7C644.4 255.5 645.4 256.6 646.7 256.4C647.9 256.3 649.0 254.1 650.3 252.8C651.7 251.4 653.4 249.2 654.9 248.2C656.4 247.1 657.7 247.7 659.5 246.3C661.3 245.0 663.6 242.7 665.5 240.0C667.4 237.3 669.2 232.8 671.0 229.9C672.8 227.0 675.0 224.1 676.5 222.6C678.0 221.1 678.6 220.6 680.2 220.8C681.7 220.9 683.5 222.9 685.7 223.5C687.8 224.1 690.6 224.1 693.0 224.4C695.4 224.8 697.9 225.7 700.3 225.7C702.8 225.7 705.2 225.2 707.7 224.4C710.1 223.6 712.9 221.8 715.0 220.8C717.1 219.7 718.4 218.9 720.5 218.4C722.6 217.8 725.4 218.0 727.8 217.6C730.3 217.3 733.0 216.7 735.2 216.2C737.3 215.6 738.8 215.2 740.7 214.3C742.5 213.4 744.3 212.3 746.2 210.7C748.0 209.0 750.1 206.5 751.7 204.2C753.2 202.0 754.3 199.5 755.3 196.9C756.4 194.3 757.3 191.1 758.1 188.7C758.9 186.2 759.2 185.3 760.0 182.2C760.8 179.2 761.8 173.1 762.8 170.3C763.7 167.6 764.1 166.7 765.5 165.8C766.9 164.8 769.0 165.0 771.0 164.8C773.0 164.7 775.7 165.6 777.4 164.8C779.1 164.1 779.7 162.7 781.1 160.2C782.5 157.8 784.0 153.7 785.7 150.2C787.3 146.7 789.3 142.8 791.2 139.2C793.0 135.5 795.0 131.8 796.7 128.2C798.3 124.5 799.9 120.1 801.2 117.2C802.6 114.3 803.8 112.0 804.9 110.8C806.0 109.5 807.0 109.2 808.0 109.5C809.1 109.8 810.2 110.4 811.3 112.6C812.5 114.8 813.8 119.5 815.0 122.7C816.2 125.9 817.4 129.7 818.7 131.8C819.9 134.0 821.3 135.2 822.3 135.5C823.4 135.8 824.0 135.5 825.1 133.7C826.2 131.8 827.5 127.9 828.8 124.5C830.0 121.1 831.0 117.2 832.4 113.5C833.8 109.8 835.3 105.7 837.0 102.5C838.7 99.3 840.7 96.8 842.5 94.2C844.3 91.7 846.5 88.9 848.0 87.5C849.5 86.0 850.4 85.6 851.7 85.6C852.9 85.7 854.0 86.1 855.3 87.8C856.7 89.6 858.5 93.6 859.9 96.1C861.3 98.5 862.7 100.9 863.6 102.5C864.4 104.1 864.4 105.2 865.0 105.8C865.6 106.4 866.3 105.8 867.2 106.2C868.2 106.5 869.0 107.3 870.5 108.0C872.0 108.7 874.0 109.5 876.0 110.2C878.0 110.9 880.3 112.0 882.4 112.2C884.6 112.5 886.8 111.9 888.8 111.7C890.8 111.4 892.7 111.4 894.3 110.8C896.0 110.1 897.1 108.3 898.9 107.6C900.8 106.9 903.0 106.6 905.3 106.5C907.6 106.4 910.2 106.6 912.7 107.1C915.1 107.6 917.9 108.2 920.0 109.5C922.1 110.7 923.8 112.4 925.5 114.4C927.2 116.5 928.7 119.5 930.1 121.8C931.5 124.0 932.4 126.7 933.8 128.2C935.1 129.6 936.3 130.1 938.3 130.4C940.3 130.7 943.2 130.2 945.7 130.0C948.1 129.8 950.9 130.1 953.0 129.4C955.1 128.8 957.0 127.8 958.5 126.3C960.0 124.9 960.9 122.7 962.2 120.8C963.4 119.0 964.6 116.6 965.8 115.3C967.1 114.1 967.8 114.1 969.5 113.5C971.2 112.9 973.7 112.3 976.0 111.5C978.3 110.8 980.9 109.5 983.3 109.0C985.8 108.4 988.2 108.4 990.7 108.4C993.1 108.5 995.9 108.6 998.0 109.3C1000.1 110.1 1001.7 111.3 1003.5 113.0C1005.3 114.7 1007.3 117.3 1009.0 119.4C1010.7 121.6 1012.2 124.2 1013.6 125.8C1015.0 127.5 1016.0 129.1 1017.2 129.1C1018.5 129.1 1019.5 127.1 1020.9 125.8C1022.3 124.5 1023.8 122.6 1025.5 121.2C1027.2 119.9 1029.5 119.0 1031.0 117.6C1032.5 116.2 1033.6 115.0 1034.7 113.0C1035.7 111.0 1036.7 108.0 1037.4 105.7C1038.2 103.4 1038.9 100.3 1039.2 99.2" stroke="#800080" stroke-width="1.8" stroke-dasharray="6.4 2.8"/>
<path d="M297.3 356.2C297.8 354.9 298.8 350.4 300.4 348.5C302.0 346.6 304.8 346.2 306.8 344.5C308.8 342.8 310.5 340.3 312.3 338.4C314.1 336.5 316.1 335.9 317.8 333.0C319.5 330.1 320.6 323.5 322.4 321.0C324.2 318.5 326.5 318.4 328.8 318.2C331.1 318.1 334.2 318.6 336.2 320.0C338.2 321.4 339.3 324.6 340.8 326.5C342.2 328.4 342.8 330.0 345.0 331.2C347.2 332.3 351.4 332.4 354.2 333.4C356.9 334.3 359.4 335.7 361.5 336.7C363.6 337.7 364.9 339.4 367.0 339.4C369.1 339.4 371.9 336.6 374.3 336.7C376.8 336.7 379.2 339.6 381.7 339.8C384.1 340.0 386.6 338.0 389.0 337.9C391.4 337.9 394.2 338.8 396.3 339.4C398.5 340.1 400.0 342.4 401.8 341.8C403.7 341.2 405.2 338.9 407.3 335.8C409.5 332.6 412.5 325.8 414.7 322.9C416.8 320.0 418.0 319.6 420.2 318.3C422.3 317.1 424.8 317.1 427.5 315.6C430.2 314.1 433.9 310.5 436.7 309.2C439.4 307.9 441.8 308.0 444.0 307.9C446.2 307.8 447.8 309.1 450.0 308.5C452.2 308.0 454.6 305.6 457.3 304.5C460.1 303.4 463.8 302.7 466.5 301.8C469.2 300.8 471.7 300.7 473.8 299.0C476.0 297.3 477.5 295.0 479.3 291.7C481.2 288.3 483.0 283.0 484.8 278.8C486.7 274.7 488.5 270.7 490.3 266.9C492.2 263.1 494.2 258.7 495.8 255.9C497.5 253.2 498.9 250.6 500.4 250.4C501.9 250.3 503.5 252.2 505.0 255.0C506.5 257.8 508.2 264.0 509.6 266.9C511.0 269.8 511.6 271.2 513.2 272.4C514.9 273.6 517.1 273.8 519.7 274.2C522.3 274.7 525.5 275.0 528.8 275.2C532.2 275.3 537.1 275.6 539.8 275.2C542.6 274.7 543.7 274.2 545.3 272.4C547.0 270.6 548.5 265.5 549.9 264.2C551.3 262.8 552.7 263.5 553.6 264.2C554.4 264.9 554.2 266.1 555.0 268.3C555.8 270.6 557.4 274.8 558.7 277.5C559.9 280.2 561.1 283.2 562.3 284.8C563.6 286.5 564.2 286.9 566.0 287.2C567.8 287.5 570.9 286.8 573.3 286.7C575.8 286.6 578.2 286.2 580.7 286.7C583.1 287.1 585.9 289.0 588.0 289.4C590.1 289.9 591.7 290.8 593.5 289.4C595.3 288.0 597.3 283.9 599.0 281.2C600.7 278.4 602.2 274.8 603.6 272.9C605.0 271.0 605.9 270.0 607.2 269.8C608.6 269.6 610.3 270.4 611.8 272.0C613.4 273.6 614.9 276.9 616.4 279.3C617.9 281.8 619.5 284.7 621.0 286.7C622.5 288.7 623.8 290.6 625.6 291.2C627.4 291.9 630.0 290.9 632.0 290.3C634.0 289.7 636.0 288.8 637.5 287.6C639.0 286.4 639.6 283.8 641.2 283.0C642.7 282.2 644.8 282.2 646.7 282.6C648.5 283.1 650.3 285.3 652.2 285.8C654.0 286.2 656.4 285.4 657.7 285.2C659.0 285.0 658.4 284.9 660.0 284.4C661.6 283.9 665.0 282.2 667.3 282.2C669.6 282.1 671.8 284.3 673.8 284.0C675.7 283.7 677.6 282.2 679.2 280.3C680.9 278.5 682.3 275.3 683.8 273.0C685.4 270.7 686.7 268.0 688.4 266.6C690.1 265.2 691.9 265.1 693.9 264.8C695.9 264.4 698.3 265.1 700.3 264.8C702.3 264.4 703.8 263.5 705.8 262.9C707.8 262.3 710.3 260.9 712.2 261.1C714.2 261.2 716.2 262.3 717.8 263.8C719.3 265.4 720.2 268.7 721.4 270.2C722.6 271.8 723.4 272.8 725.1 273.0C726.8 273.2 729.2 271.9 731.5 271.2C733.8 270.4 736.4 269.3 738.8 268.4C741.3 267.5 744.0 266.1 746.2 265.7C748.3 265.2 750.0 264.8 751.7 265.7C753.3 266.6 754.9 269.6 756.2 271.2C757.6 272.7 758.4 275.1 759.9 274.8C761.5 274.6 763.3 270.6 765.5 269.6C767.7 268.7 770.7 269.8 772.8 269.1C775.0 268.4 776.2 267.1 778.3 265.4C780.5 263.7 783.2 260.7 785.7 259.0C788.1 257.3 790.7 255.4 793.0 255.0C795.3 254.5 797.4 255.7 799.4 256.2C801.4 256.8 803.5 258.1 804.9 258.1C806.3 258.1 806.8 259.2 807.7 256.2C808.6 253.3 809.5 245.7 810.4 240.7C811.3 235.6 812.2 231.0 813.2 226.0C814.1 221.0 815.0 215.0 815.9 210.4C816.8 205.8 817.8 202.0 818.7 198.5C819.6 195.0 820.3 191.3 821.4 189.3C822.5 187.3 823.6 186.9 825.1 186.6C826.6 186.3 828.6 187.0 830.6 187.5C832.6 188.0 834.7 189.4 837.0 189.7C839.3 190.0 842.2 189.9 844.3 189.3C846.5 188.8 848.3 188.1 849.8 186.6C851.4 185.0 852.4 182.9 853.5 180.0C854.6 177.1 855.5 172.7 856.5 169.0C857.5 165.3 858.5 161.7 859.5 158.0C860.5 154.3 861.7 150.1 862.5 147.0C863.3 143.9 863.9 141.3 864.5 139.5C865.1 137.7 865.2 136.8 866.0 136.0C866.8 135.2 867.7 134.9 869.0 134.8C870.3 134.7 872.3 135.3 874.0 135.3C875.7 135.3 877.3 135.2 879.0 135.0C880.7 134.8 882.5 134.2 884.0 134.0C885.5 133.8 886.7 133.6 888.0 133.8C889.3 134.0 890.8 134.4 892.0 135.0C893.2 135.6 894.2 136.4 895.0 137.5C895.8 138.6 896.3 140.2 897.0 141.5C897.7 142.8 897.8 143.1 899.0 145.0C900.2 146.9 902.4 150.7 904.4 152.9C906.4 155.2 908.5 157.1 910.8 158.4C913.1 159.7 915.7 160.3 918.2 160.8C920.6 161.3 923.5 161.8 925.5 161.5C927.5 161.3 928.4 159.9 930.1 159.3C931.8 158.8 933.6 158.4 935.6 158.1C937.6 157.7 939.7 157.4 942.0 157.1C944.3 156.8 946.9 156.3 949.3 156.2C951.8 156.1 954.2 156.1 956.7 156.6C959.1 157.0 961.7 158.9 964.0 159.0C966.3 159.0 968.7 157.8 970.5 157.0C972.3 156.2 973.7 154.9 975.1 154.2C976.5 153.6 977.7 152.6 978.8 153.3C979.8 154.1 980.1 157.9 981.5 158.8C982.9 159.8 985.2 159.0 987.0 158.8C988.8 158.7 990.7 157.9 992.5 157.9C994.3 158.0 996.3 158.4 998.0 159.2C999.7 160.0 1001.1 161.2 1002.6 162.5C1004.1 163.8 1005.6 166.3 1007.2 167.1C1008.7 167.8 1010.2 167.5 1011.8 167.1C1013.3 166.6 1014.7 165.0 1016.3 164.3C1018.0 163.6 1020.0 163.2 1021.8 162.9C1023.7 162.6 1025.7 162.3 1027.3 162.5C1029.0 162.7 1030.5 163.4 1031.9 164.0C1033.3 164.6 1034.7 165.4 1035.6 166.2C1036.5 166.9 1037.1 168.2 1037.4 168.6" stroke="#800080" stroke-width="1.8" stroke-dasharray="6.4 2.8"/>
</g>
<g stroke="#000" stroke-width="1.1">
<line x1="257.5" y1="492.8" x2="257.5" y2="497.7"/>
<line x1="362.5" y1="492.8" x2="362.5" y2="497.7"/>
<line x1="466.5" y1="492.8" x2="466.5" y2="497.7"/>
<line x1="570.5" y1="492.8" x2="570.5" y2="497.7"/>
<line x1="674.5" y1="492.8" x2="674.5" y2="497.7"/>
<line x1="778.5" y1="492.8" x2="778.5" y2="497.7"/>
<line x1="882.5" y1="492.8" x2="882.5" y2="497.7"/>
<line x1="987.5" y1="492.8" x2="987.5" y2="497.7"/>
<line x1="1081" y1="79.5" x2="1085.9" y2="79.5"/>
<line x1="1081" y1="140.5" x2="1085.9" y2="140.5"/>
<line x1="1081" y1="200.5" x2="1085.9" y2="200.5"/>
<line x1="1081" y1="260.5" x2="1085.9" y2="260.5"/>
<line x1="1081" y1="321.5" x2="1085.9" y2="321.5"/>
<line x1="1081" y1="382.5" x2="1085.9" y2="382.5"/>
<line x1="1081" y1="438.5" x2="1085.9" y2="438.5"/>
</g>
<g font-size="13.89px" fill="#000">
<text x="1091.2" y="84.6" letter-spacing="-0.45">9.0</text>
<text x="1091.2" y="145.6" letter-spacing="-0.45">8.5</text>
<text x="1091.2" y="205.6" letter-spacing="-0.45">8.0</text>
<text x="1091.2" y="265.6" letter-spacing="-0.45">7.5</text>
<text x="1091.2" y="326.6" letter-spacing="-0.45">7.0</text>
<text x="1090.8" y="387.6" letter-spacing="0">20</text>
<text x="1090.8" y="443.6" letter-spacing="0">10</text>
<text transform="translate(256.0,537.7) rotate(-45)" text-anchor="middle" dominant-baseline="central">2024-Apr-18</text>
<text transform="translate(361.0,537.7) rotate(-45)" text-anchor="middle" dominant-baseline="central">2024-Jun-28</text>
<text transform="translate(465.0,537.7) rotate(-45)" text-anchor="middle" dominant-baseline="central">2024-Sep-09</text>
<text transform="translate(569.0,537.7) rotate(-45)" text-anchor="middle" dominant-baseline="central">2024-Nov-18</text>
<text transform="translate(673.0,537.7) rotate(-45)" text-anchor="middle" dominant-baseline="central">2025-Feb-03</text>
<text transform="translate(777.0,537.7) rotate(-45)" text-anchor="middle" dominant-baseline="central">2025-Apr-14</text>
<text transform="translate(881.0,537.7) rotate(-45)" text-anchor="middle" dominant-baseline="central">2025-Jun-26</text>
<text transform="translate(986.0,537.7) rotate(-45)" text-anchor="middle" dominant-baseline="central">2025-Sep-05</text>
<text transform="translate(1130,224.5) rotate(-90)" text-anchor="middle">Price</text>
<text transform="translate(1128.3,475.3) rotate(-90)">Volume</text>
<text transform="translate(1128.3,413.9) rotate(-90)">10</text>
<text transform="translate(1122.9,396.3) rotate(-90)" font-size="9.7px">6</text>
</g>
<text x="599.7" y="17" text-anchor="middle" font-size="20.1px" font-weight="bold" fill="#000">TRN.MI - Grafico Candlestick Giornaliero (18 Mesi)</text>
<rect x="223.6" y="80" width="215.4" height="108" rx="2.6" fill="#fafafa" fill-opacity="0.8" stroke="#cccccc" stroke-opacity="0.8" stroke-width="1.1"/>
<line x1="228.2" y1="91.0" x2="257.0" y2="91.0" stroke="#0000ff" stroke-width="1.85"/>
<text x="267" y="96.0" font-size="13.89px" fill="#000">Media Mobile 20 giorni</text>
<line x1="228.2" y1="111.8" x2="257.0" y2="111.8" stroke="#ffa500" stroke-width="1.85"/>
<text x="267" y="116.8" font-size="13.89px" fill="#000">Media Mobile 50 giorni</text>
<line x1="228.2" y1="132.6" x2="257.0" y2="132.6" stroke="#008000" stroke-width="1.85"/>
<text x="267" y="137.6" font-size="13.89px" fill="#000">Media Mobile 200 giorni</text>
<line x1="228.2" y1="153.3" x2="256.0" y2="153.3" stroke="#800080" stroke-width="1.85" stroke-dasharray="6.4 2.8"/>
<text x="267" y="158.3" font-size="13.89px" fill="#000">BB Superiore</text>
<line x1="228.2" y1="174.1" x2="256.0" y2="174.1" stroke="#800080" stroke-width="1.85" stroke-dasharray="6.4 2.8"/>
<text x="267" y="179.1" font-size="13.89px" fill="#000">BB Inferiore</text>
</g>
</svg>
</body></html>
